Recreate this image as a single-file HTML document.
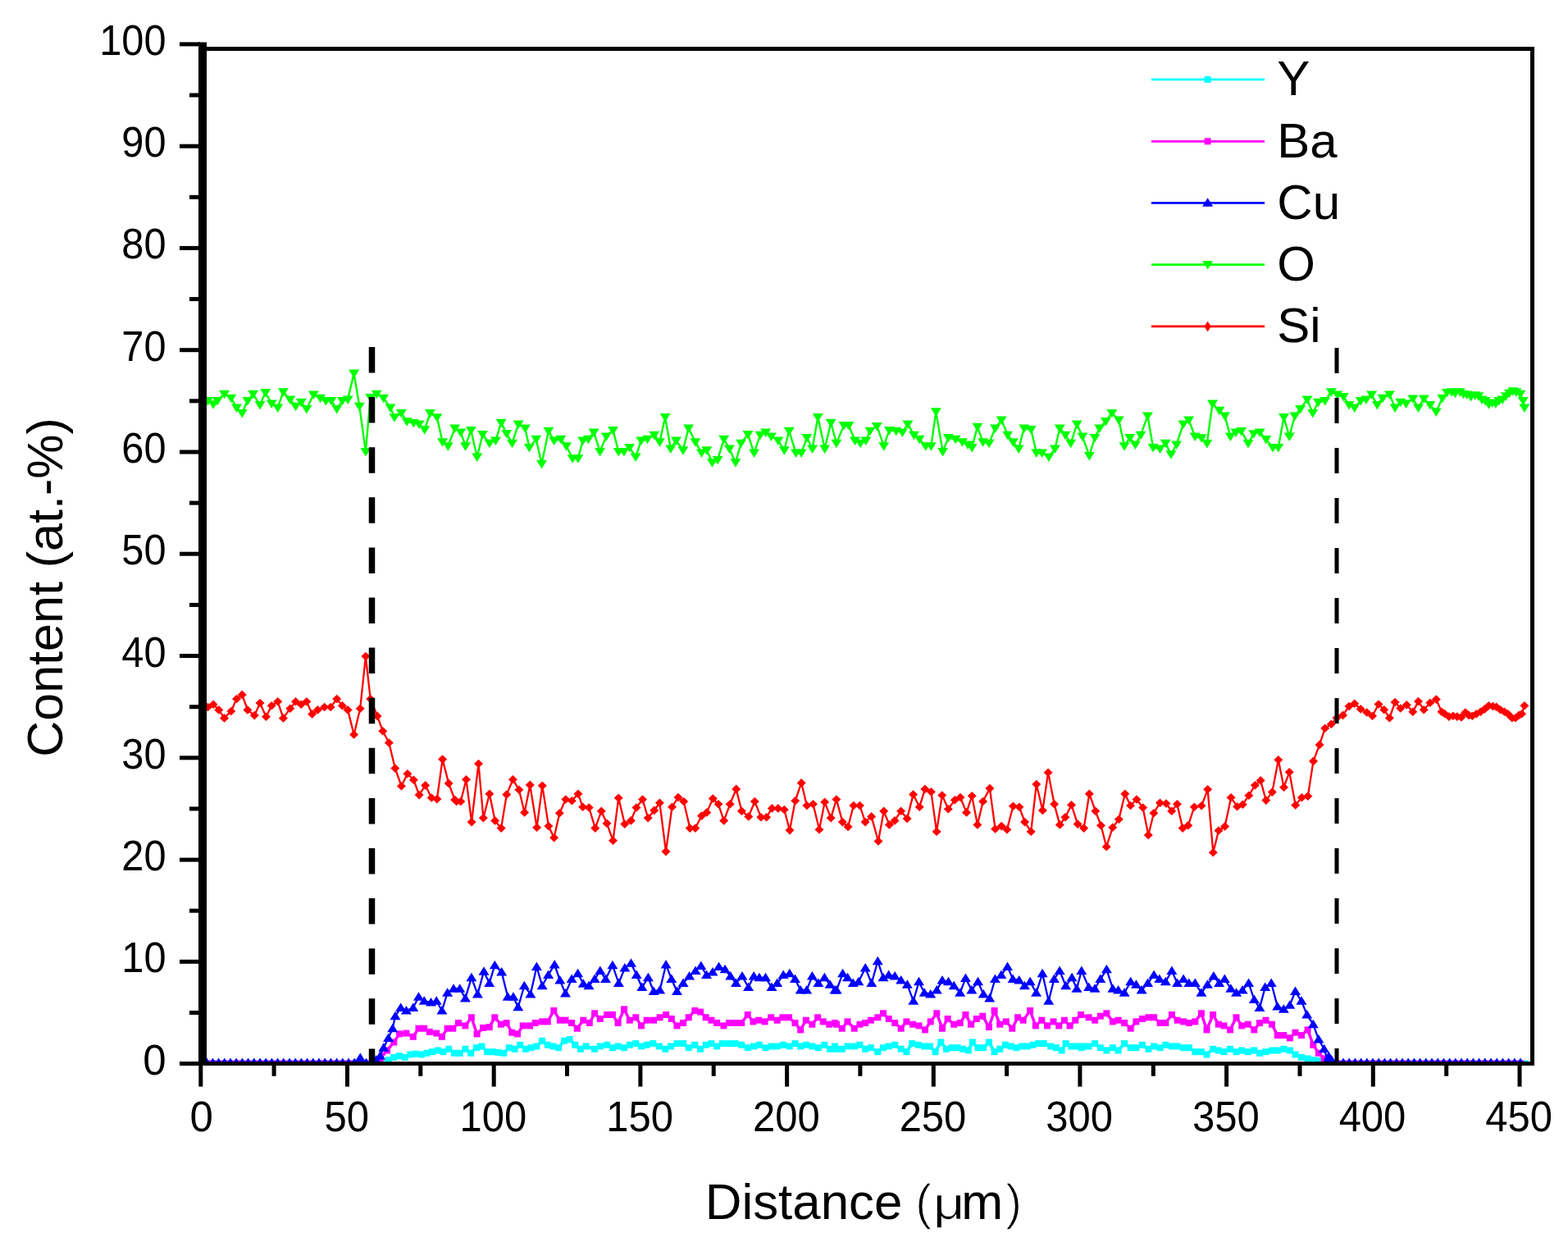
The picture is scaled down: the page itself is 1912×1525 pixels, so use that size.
<!DOCTYPE html>
<html><head><meta charset="utf-8"><title>Content vs Distance</title>
<style>
html,body{margin:0;padding:0;background:#fff;}
body{width:1912px;height:1525px;overflow:hidden;}
svg{display:block;}
text{font-family:"Liberation Sans",Arial,sans-serif;fill:#000;}
.tl{font-size:51px;}
.at{font-size:61px;}
.lg{font-size:60px;}
.th{stroke:#fff;stroke-width:1.4px;}
</style></head><body>
<svg width="1912" height="1525" viewBox="0 0 1912 1525">
<defs><clipPath id="pc"><rect x="244" y="60" width="1624" height="1238"/></clipPath></defs>
<g clip-path="url(#pc)">
<path d="M245.0 1296.6 L252.2 1296.6 L259.4 1296.6 L266.6 1296.6 L273.8 1296.6 L281.0 1296.6 L288.2 1296.6 L295.4 1296.6 L302.6 1296.6 L309.8 1296.6 L317.0 1296.6 L324.2 1296.6 L331.4 1296.6 L338.6 1296.6 L345.8 1296.6 L353.0 1296.6 L360.2 1296.6 L367.4 1296.6 L374.6 1296.6 L381.8 1296.6 L389.0 1296.6 L396.2 1296.6 L403.4 1296.6 L410.6 1296.6 L417.8 1296.6 L425.0 1296.6 L432.2 1296.6 L439.4 1296.6 L446.6 1296.6 L453.8 1296.6 L461.0 1296.6 L468.2 1296.6 L473.6 1292.2 L480.3 1288.9 L487.0 1287.2 L493.7 1288.9 L500.4 1285.5 L507.1 1284.7 L513.8 1285.5 L520.5 1283.8 L527.2 1282.2 L533.9 1280.5 L540.6 1282.2 L547.3 1278.8 L554.0 1283.8 L560.7 1283.8 L567.4 1278.8 L574.1 1283.8 L580.8 1277.2 L587.4 1275.5 L594.1 1282.2 L600.8 1282.2 L607.5 1283.0 L614.2 1283.8 L620.9 1277.2 L627.6 1278.8 L634.3 1273.8 L641.0 1278.8 L647.7 1277.2 L654.4 1275.5 L661.1 1268.8 L667.8 1273.8 L674.5 1275.5 L681.2 1277.2 L687.9 1268.8 L694.6 1267.1 L701.3 1273.8 L707.9 1278.8 L714.6 1275.5 L725.1 1278.8 L731.8 1275.5 L740.2 1273.8 L746.9 1277.2 L753.6 1275.5 L761.1 1277.2 L767.8 1273.8 L775.3 1272.1 L782.0 1275.5 L788.7 1273.8 L796.2 1272.1 L803.8 1275.5 L811.3 1278.8 L818.0 1275.5 L825.5 1272.1 L833.1 1272.1 L839.7 1277.2 L847.3 1273.8 L854.0 1278.8 L860.7 1273.8 L867.4 1272.1 L874.1 1275.5 L880.8 1272.1 L889.1 1272.1 L896.7 1272.1 L904.2 1273.8 L911.7 1277.2 L919.2 1275.5 L925.9 1273.8 L933.5 1277.2 L941.0 1275.5 L947.7 1275.5 L955.2 1273.8 L962.8 1275.5 L969.5 1272.1 L976.2 1275.5 L982.8 1273.8 L990.4 1275.5 L997.9 1277.2 L1005.4 1273.8 L1012.1 1278.8 L1018.0 1275.5 L1020.1 1278.8 L1026.8 1278.8 L1033.5 1275.5 L1041.8 1275.5 L1048.5 1273.8 L1055.2 1278.8 L1061.9 1277.2 L1070.3 1282.2 L1077.0 1277.2 L1083.7 1275.5 L1091.2 1273.8 L1098.7 1278.8 L1105.4 1282.2 L1112.1 1272.1 L1119.7 1273.8 L1127.2 1275.5 L1133.9 1275.5 L1140.6 1282.2 L1147.3 1270.5 L1154.0 1278.8 L1160.7 1277.2 L1167.4 1277.2 L1174.1 1278.8 L1180.8 1280.5 L1185.8 1270.5 L1192.5 1277.2 L1199.2 1277.2 L1205.9 1270.5 L1212.6 1282.2 L1219.2 1278.8 L1225.9 1273.8 L1232.6 1275.5 L1239.3 1277.2 L1246.0 1275.5 L1252.7 1275.5 L1259.4 1273.8 L1266.1 1272.1 L1272.8 1272.1 L1281.2 1275.5 L1287.9 1277.2 L1294.6 1280.5 L1299.6 1272.1 L1306.3 1275.5 L1313.0 1275.5 L1318.8 1277.2 L1320.9 1275.5 L1327.6 1275.5 L1335.1 1272.1 L1341.8 1277.2 L1349.4 1280.5 L1356.9 1277.2 L1363.6 1280.5 L1371.1 1272.1 L1378.7 1277.2 L1385.4 1277.2 L1392.9 1273.8 L1400.4 1278.8 L1407.1 1275.5 L1414.6 1277.2 L1421.3 1273.8 L1428.9 1275.5 L1435.6 1275.5 L1443.1 1277.2 L1449.8 1277.2 L1457.3 1282.2 L1464.9 1282.2 L1471.5 1285.5 L1479.1 1278.8 L1485.8 1280.5 L1492.5 1282.2 L1500.0 1278.8 L1507.5 1282.2 L1514.2 1280.5 L1521.8 1282.2 L1529.3 1280.5 L1536.0 1283.8 L1543.5 1282.2 L1551.0 1280.5 L1557.7 1280.5 L1565.3 1278.8 L1572.8 1280.5 L1579.5 1285.5 L1587.0 1288.9 L1594.6 1290.5 L1601.3 1292.2 L1607.9 1293.1 L1615.1 1296.6 L1622.3 1296.6 L1629.5 1296.6 L1636.7 1296.6 L1643.9 1296.6 L1651.1 1296.6 L1658.3 1296.6 L1665.5 1296.6 L1672.7 1296.6 L1679.9 1296.6 L1687.1 1296.6 L1694.3 1296.6 L1701.5 1296.6 L1708.7 1296.6 L1715.9 1296.6 L1723.1 1296.6 L1730.3 1296.6 L1737.5 1296.6 L1744.7 1296.6 L1751.9 1296.6 L1759.1 1296.6 L1766.3 1296.6 L1773.5 1296.6 L1780.7 1296.6 L1787.9 1296.6 L1795.1 1296.6 L1802.3 1296.6 L1809.5 1296.6 L1816.7 1296.6 L1823.9 1296.6 L1831.1 1296.6 L1838.3 1296.6 L1845.5 1296.6 L1852.7 1296.6 L1859.9 1296.6" fill="none" stroke="#00ffff" stroke-width="4.0" stroke-linejoin="round"/>
<rect x="241.0" y="1292.6" width="8.0" height="8.0" fill="#00ffff"/>
<rect x="248.2" y="1292.6" width="8.0" height="8.0" fill="#00ffff"/>
<rect x="255.4" y="1292.6" width="8.0" height="8.0" fill="#00ffff"/>
<rect x="262.6" y="1292.6" width="8.0" height="8.0" fill="#00ffff"/>
<rect x="269.8" y="1292.6" width="8.0" height="8.0" fill="#00ffff"/>
<rect x="277.0" y="1292.6" width="8.0" height="8.0" fill="#00ffff"/>
<rect x="284.2" y="1292.6" width="8.0" height="8.0" fill="#00ffff"/>
<rect x="291.4" y="1292.6" width="8.0" height="8.0" fill="#00ffff"/>
<rect x="298.6" y="1292.6" width="8.0" height="8.0" fill="#00ffff"/>
<rect x="305.8" y="1292.6" width="8.0" height="8.0" fill="#00ffff"/>
<rect x="313.0" y="1292.6" width="8.0" height="8.0" fill="#00ffff"/>
<rect x="320.2" y="1292.6" width="8.0" height="8.0" fill="#00ffff"/>
<rect x="327.4" y="1292.6" width="8.0" height="8.0" fill="#00ffff"/>
<rect x="334.6" y="1292.6" width="8.0" height="8.0" fill="#00ffff"/>
<rect x="341.8" y="1292.6" width="8.0" height="8.0" fill="#00ffff"/>
<rect x="349.0" y="1292.6" width="8.0" height="8.0" fill="#00ffff"/>
<rect x="356.2" y="1292.6" width="8.0" height="8.0" fill="#00ffff"/>
<rect x="363.4" y="1292.6" width="8.0" height="8.0" fill="#00ffff"/>
<rect x="370.6" y="1292.6" width="8.0" height="8.0" fill="#00ffff"/>
<rect x="377.8" y="1292.6" width="8.0" height="8.0" fill="#00ffff"/>
<rect x="385.0" y="1292.6" width="8.0" height="8.0" fill="#00ffff"/>
<rect x="392.2" y="1292.6" width="8.0" height="8.0" fill="#00ffff"/>
<rect x="399.4" y="1292.6" width="8.0" height="8.0" fill="#00ffff"/>
<rect x="406.6" y="1292.6" width="8.0" height="8.0" fill="#00ffff"/>
<rect x="413.8" y="1292.6" width="8.0" height="8.0" fill="#00ffff"/>
<rect x="421.0" y="1292.6" width="8.0" height="8.0" fill="#00ffff"/>
<rect x="428.2" y="1292.6" width="8.0" height="8.0" fill="#00ffff"/>
<rect x="435.4" y="1292.6" width="8.0" height="8.0" fill="#00ffff"/>
<rect x="442.6" y="1292.6" width="8.0" height="8.0" fill="#00ffff"/>
<rect x="449.8" y="1292.6" width="8.0" height="8.0" fill="#00ffff"/>
<rect x="457.0" y="1292.6" width="8.0" height="8.0" fill="#00ffff"/>
<rect x="464.2" y="1292.6" width="8.0" height="8.0" fill="#00ffff"/>
<rect x="469.6" y="1288.2" width="8.0" height="8.0" fill="#00ffff"/>
<rect x="476.3" y="1284.9" width="8.0" height="8.0" fill="#00ffff"/>
<rect x="483.0" y="1283.2" width="8.0" height="8.0" fill="#00ffff"/>
<rect x="489.7" y="1284.9" width="8.0" height="8.0" fill="#00ffff"/>
<rect x="496.4" y="1281.5" width="8.0" height="8.0" fill="#00ffff"/>
<rect x="503.1" y="1280.7" width="8.0" height="8.0" fill="#00ffff"/>
<rect x="509.8" y="1281.5" width="8.0" height="8.0" fill="#00ffff"/>
<rect x="516.5" y="1279.8" width="8.0" height="8.0" fill="#00ffff"/>
<rect x="523.2" y="1278.2" width="8.0" height="8.0" fill="#00ffff"/>
<rect x="529.9" y="1276.5" width="8.0" height="8.0" fill="#00ffff"/>
<rect x="536.6" y="1278.2" width="8.0" height="8.0" fill="#00ffff"/>
<rect x="543.3" y="1274.8" width="8.0" height="8.0" fill="#00ffff"/>
<rect x="550.0" y="1279.8" width="8.0" height="8.0" fill="#00ffff"/>
<rect x="556.7" y="1279.8" width="8.0" height="8.0" fill="#00ffff"/>
<rect x="563.4" y="1274.8" width="8.0" height="8.0" fill="#00ffff"/>
<rect x="570.1" y="1279.8" width="8.0" height="8.0" fill="#00ffff"/>
<rect x="576.8" y="1273.2" width="8.0" height="8.0" fill="#00ffff"/>
<rect x="583.4" y="1271.5" width="8.0" height="8.0" fill="#00ffff"/>
<rect x="590.1" y="1278.2" width="8.0" height="8.0" fill="#00ffff"/>
<rect x="596.8" y="1278.2" width="8.0" height="8.0" fill="#00ffff"/>
<rect x="603.5" y="1279.0" width="8.0" height="8.0" fill="#00ffff"/>
<rect x="610.2" y="1279.8" width="8.0" height="8.0" fill="#00ffff"/>
<rect x="616.9" y="1273.2" width="8.0" height="8.0" fill="#00ffff"/>
<rect x="623.6" y="1274.8" width="8.0" height="8.0" fill="#00ffff"/>
<rect x="630.3" y="1269.8" width="8.0" height="8.0" fill="#00ffff"/>
<rect x="637.0" y="1274.8" width="8.0" height="8.0" fill="#00ffff"/>
<rect x="643.7" y="1273.2" width="8.0" height="8.0" fill="#00ffff"/>
<rect x="650.4" y="1271.5" width="8.0" height="8.0" fill="#00ffff"/>
<rect x="657.1" y="1264.8" width="8.0" height="8.0" fill="#00ffff"/>
<rect x="663.8" y="1269.8" width="8.0" height="8.0" fill="#00ffff"/>
<rect x="670.5" y="1271.5" width="8.0" height="8.0" fill="#00ffff"/>
<rect x="677.2" y="1273.2" width="8.0" height="8.0" fill="#00ffff"/>
<rect x="683.9" y="1264.8" width="8.0" height="8.0" fill="#00ffff"/>
<rect x="690.6" y="1263.1" width="8.0" height="8.0" fill="#00ffff"/>
<rect x="697.3" y="1269.8" width="8.0" height="8.0" fill="#00ffff"/>
<rect x="703.9" y="1274.8" width="8.0" height="8.0" fill="#00ffff"/>
<rect x="710.6" y="1271.5" width="8.0" height="8.0" fill="#00ffff"/>
<rect x="721.1" y="1274.8" width="8.0" height="8.0" fill="#00ffff"/>
<rect x="727.8" y="1271.5" width="8.0" height="8.0" fill="#00ffff"/>
<rect x="736.2" y="1269.8" width="8.0" height="8.0" fill="#00ffff"/>
<rect x="742.9" y="1273.2" width="8.0" height="8.0" fill="#00ffff"/>
<rect x="749.6" y="1271.5" width="8.0" height="8.0" fill="#00ffff"/>
<rect x="757.1" y="1273.2" width="8.0" height="8.0" fill="#00ffff"/>
<rect x="763.8" y="1269.8" width="8.0" height="8.0" fill="#00ffff"/>
<rect x="771.3" y="1268.1" width="8.0" height="8.0" fill="#00ffff"/>
<rect x="778.0" y="1271.5" width="8.0" height="8.0" fill="#00ffff"/>
<rect x="784.7" y="1269.8" width="8.0" height="8.0" fill="#00ffff"/>
<rect x="792.2" y="1268.1" width="8.0" height="8.0" fill="#00ffff"/>
<rect x="799.8" y="1271.5" width="8.0" height="8.0" fill="#00ffff"/>
<rect x="807.3" y="1274.8" width="8.0" height="8.0" fill="#00ffff"/>
<rect x="814.0" y="1271.5" width="8.0" height="8.0" fill="#00ffff"/>
<rect x="821.5" y="1268.1" width="8.0" height="8.0" fill="#00ffff"/>
<rect x="829.1" y="1268.1" width="8.0" height="8.0" fill="#00ffff"/>
<rect x="835.7" y="1273.2" width="8.0" height="8.0" fill="#00ffff"/>
<rect x="843.3" y="1269.8" width="8.0" height="8.0" fill="#00ffff"/>
<rect x="850.0" y="1274.8" width="8.0" height="8.0" fill="#00ffff"/>
<rect x="856.7" y="1269.8" width="8.0" height="8.0" fill="#00ffff"/>
<rect x="863.4" y="1268.1" width="8.0" height="8.0" fill="#00ffff"/>
<rect x="870.1" y="1271.5" width="8.0" height="8.0" fill="#00ffff"/>
<rect x="876.8" y="1268.1" width="8.0" height="8.0" fill="#00ffff"/>
<rect x="885.1" y="1268.1" width="8.0" height="8.0" fill="#00ffff"/>
<rect x="892.7" y="1268.1" width="8.0" height="8.0" fill="#00ffff"/>
<rect x="900.2" y="1269.8" width="8.0" height="8.0" fill="#00ffff"/>
<rect x="907.7" y="1273.2" width="8.0" height="8.0" fill="#00ffff"/>
<rect x="915.2" y="1271.5" width="8.0" height="8.0" fill="#00ffff"/>
<rect x="921.9" y="1269.8" width="8.0" height="8.0" fill="#00ffff"/>
<rect x="929.5" y="1273.2" width="8.0" height="8.0" fill="#00ffff"/>
<rect x="937.0" y="1271.5" width="8.0" height="8.0" fill="#00ffff"/>
<rect x="943.7" y="1271.5" width="8.0" height="8.0" fill="#00ffff"/>
<rect x="951.2" y="1269.8" width="8.0" height="8.0" fill="#00ffff"/>
<rect x="958.8" y="1271.5" width="8.0" height="8.0" fill="#00ffff"/>
<rect x="965.5" y="1268.1" width="8.0" height="8.0" fill="#00ffff"/>
<rect x="972.2" y="1271.5" width="8.0" height="8.0" fill="#00ffff"/>
<rect x="978.8" y="1269.8" width="8.0" height="8.0" fill="#00ffff"/>
<rect x="986.4" y="1271.5" width="8.0" height="8.0" fill="#00ffff"/>
<rect x="993.9" y="1273.2" width="8.0" height="8.0" fill="#00ffff"/>
<rect x="1001.4" y="1269.8" width="8.0" height="8.0" fill="#00ffff"/>
<rect x="1008.1" y="1274.8" width="8.0" height="8.0" fill="#00ffff"/>
<rect x="1014.0" y="1271.5" width="8.0" height="8.0" fill="#00ffff"/>
<rect x="1016.1" y="1274.8" width="8.0" height="8.0" fill="#00ffff"/>
<rect x="1022.8" y="1274.8" width="8.0" height="8.0" fill="#00ffff"/>
<rect x="1029.5" y="1271.5" width="8.0" height="8.0" fill="#00ffff"/>
<rect x="1037.8" y="1271.5" width="8.0" height="8.0" fill="#00ffff"/>
<rect x="1044.5" y="1269.8" width="8.0" height="8.0" fill="#00ffff"/>
<rect x="1051.2" y="1274.8" width="8.0" height="8.0" fill="#00ffff"/>
<rect x="1057.9" y="1273.2" width="8.0" height="8.0" fill="#00ffff"/>
<rect x="1066.3" y="1278.2" width="8.0" height="8.0" fill="#00ffff"/>
<rect x="1073.0" y="1273.2" width="8.0" height="8.0" fill="#00ffff"/>
<rect x="1079.7" y="1271.5" width="8.0" height="8.0" fill="#00ffff"/>
<rect x="1087.2" y="1269.8" width="8.0" height="8.0" fill="#00ffff"/>
<rect x="1094.7" y="1274.8" width="8.0" height="8.0" fill="#00ffff"/>
<rect x="1101.4" y="1278.2" width="8.0" height="8.0" fill="#00ffff"/>
<rect x="1108.1" y="1268.1" width="8.0" height="8.0" fill="#00ffff"/>
<rect x="1115.7" y="1269.8" width="8.0" height="8.0" fill="#00ffff"/>
<rect x="1123.2" y="1271.5" width="8.0" height="8.0" fill="#00ffff"/>
<rect x="1129.9" y="1271.5" width="8.0" height="8.0" fill="#00ffff"/>
<rect x="1136.6" y="1278.2" width="8.0" height="8.0" fill="#00ffff"/>
<rect x="1143.3" y="1266.5" width="8.0" height="8.0" fill="#00ffff"/>
<rect x="1150.0" y="1274.8" width="8.0" height="8.0" fill="#00ffff"/>
<rect x="1156.7" y="1273.2" width="8.0" height="8.0" fill="#00ffff"/>
<rect x="1163.4" y="1273.2" width="8.0" height="8.0" fill="#00ffff"/>
<rect x="1170.1" y="1274.8" width="8.0" height="8.0" fill="#00ffff"/>
<rect x="1176.8" y="1276.5" width="8.0" height="8.0" fill="#00ffff"/>
<rect x="1181.8" y="1266.5" width="8.0" height="8.0" fill="#00ffff"/>
<rect x="1188.5" y="1273.2" width="8.0" height="8.0" fill="#00ffff"/>
<rect x="1195.2" y="1273.2" width="8.0" height="8.0" fill="#00ffff"/>
<rect x="1201.9" y="1266.5" width="8.0" height="8.0" fill="#00ffff"/>
<rect x="1208.6" y="1278.2" width="8.0" height="8.0" fill="#00ffff"/>
<rect x="1215.2" y="1274.8" width="8.0" height="8.0" fill="#00ffff"/>
<rect x="1221.9" y="1269.8" width="8.0" height="8.0" fill="#00ffff"/>
<rect x="1228.6" y="1271.5" width="8.0" height="8.0" fill="#00ffff"/>
<rect x="1235.3" y="1273.2" width="8.0" height="8.0" fill="#00ffff"/>
<rect x="1242.0" y="1271.5" width="8.0" height="8.0" fill="#00ffff"/>
<rect x="1248.7" y="1271.5" width="8.0" height="8.0" fill="#00ffff"/>
<rect x="1255.4" y="1269.8" width="8.0" height="8.0" fill="#00ffff"/>
<rect x="1262.1" y="1268.1" width="8.0" height="8.0" fill="#00ffff"/>
<rect x="1268.8" y="1268.1" width="8.0" height="8.0" fill="#00ffff"/>
<rect x="1277.2" y="1271.5" width="8.0" height="8.0" fill="#00ffff"/>
<rect x="1283.9" y="1273.2" width="8.0" height="8.0" fill="#00ffff"/>
<rect x="1290.6" y="1276.5" width="8.0" height="8.0" fill="#00ffff"/>
<rect x="1295.6" y="1268.1" width="8.0" height="8.0" fill="#00ffff"/>
<rect x="1302.3" y="1271.5" width="8.0" height="8.0" fill="#00ffff"/>
<rect x="1309.0" y="1271.5" width="8.0" height="8.0" fill="#00ffff"/>
<rect x="1314.8" y="1273.2" width="8.0" height="8.0" fill="#00ffff"/>
<rect x="1316.9" y="1271.5" width="8.0" height="8.0" fill="#00ffff"/>
<rect x="1323.6" y="1271.5" width="8.0" height="8.0" fill="#00ffff"/>
<rect x="1331.1" y="1268.1" width="8.0" height="8.0" fill="#00ffff"/>
<rect x="1337.8" y="1273.2" width="8.0" height="8.0" fill="#00ffff"/>
<rect x="1345.4" y="1276.5" width="8.0" height="8.0" fill="#00ffff"/>
<rect x="1352.9" y="1273.2" width="8.0" height="8.0" fill="#00ffff"/>
<rect x="1359.6" y="1276.5" width="8.0" height="8.0" fill="#00ffff"/>
<rect x="1367.1" y="1268.1" width="8.0" height="8.0" fill="#00ffff"/>
<rect x="1374.7" y="1273.2" width="8.0" height="8.0" fill="#00ffff"/>
<rect x="1381.4" y="1273.2" width="8.0" height="8.0" fill="#00ffff"/>
<rect x="1388.9" y="1269.8" width="8.0" height="8.0" fill="#00ffff"/>
<rect x="1396.4" y="1274.8" width="8.0" height="8.0" fill="#00ffff"/>
<rect x="1403.1" y="1271.5" width="8.0" height="8.0" fill="#00ffff"/>
<rect x="1410.6" y="1273.2" width="8.0" height="8.0" fill="#00ffff"/>
<rect x="1417.3" y="1269.8" width="8.0" height="8.0" fill="#00ffff"/>
<rect x="1424.9" y="1271.5" width="8.0" height="8.0" fill="#00ffff"/>
<rect x="1431.6" y="1271.5" width="8.0" height="8.0" fill="#00ffff"/>
<rect x="1439.1" y="1273.2" width="8.0" height="8.0" fill="#00ffff"/>
<rect x="1445.8" y="1273.2" width="8.0" height="8.0" fill="#00ffff"/>
<rect x="1453.3" y="1278.2" width="8.0" height="8.0" fill="#00ffff"/>
<rect x="1460.9" y="1278.2" width="8.0" height="8.0" fill="#00ffff"/>
<rect x="1467.5" y="1281.5" width="8.0" height="8.0" fill="#00ffff"/>
<rect x="1475.1" y="1274.8" width="8.0" height="8.0" fill="#00ffff"/>
<rect x="1481.8" y="1276.5" width="8.0" height="8.0" fill="#00ffff"/>
<rect x="1488.5" y="1278.2" width="8.0" height="8.0" fill="#00ffff"/>
<rect x="1496.0" y="1274.8" width="8.0" height="8.0" fill="#00ffff"/>
<rect x="1503.5" y="1278.2" width="8.0" height="8.0" fill="#00ffff"/>
<rect x="1510.2" y="1276.5" width="8.0" height="8.0" fill="#00ffff"/>
<rect x="1517.8" y="1278.2" width="8.0" height="8.0" fill="#00ffff"/>
<rect x="1525.3" y="1276.5" width="8.0" height="8.0" fill="#00ffff"/>
<rect x="1532.0" y="1279.8" width="8.0" height="8.0" fill="#00ffff"/>
<rect x="1539.5" y="1278.2" width="8.0" height="8.0" fill="#00ffff"/>
<rect x="1547.0" y="1276.5" width="8.0" height="8.0" fill="#00ffff"/>
<rect x="1553.7" y="1276.5" width="8.0" height="8.0" fill="#00ffff"/>
<rect x="1561.3" y="1274.8" width="8.0" height="8.0" fill="#00ffff"/>
<rect x="1568.8" y="1276.5" width="8.0" height="8.0" fill="#00ffff"/>
<rect x="1575.5" y="1281.5" width="8.0" height="8.0" fill="#00ffff"/>
<rect x="1583.0" y="1284.9" width="8.0" height="8.0" fill="#00ffff"/>
<rect x="1590.6" y="1286.5" width="8.0" height="8.0" fill="#00ffff"/>
<rect x="1597.3" y="1288.2" width="8.0" height="8.0" fill="#00ffff"/>
<rect x="1603.9" y="1289.1" width="8.0" height="8.0" fill="#00ffff"/>
<rect x="1611.1" y="1292.6" width="8.0" height="8.0" fill="#00ffff"/>
<rect x="1618.3" y="1292.6" width="8.0" height="8.0" fill="#00ffff"/>
<rect x="1625.5" y="1292.6" width="8.0" height="8.0" fill="#00ffff"/>
<rect x="1632.7" y="1292.6" width="8.0" height="8.0" fill="#00ffff"/>
<rect x="1639.9" y="1292.6" width="8.0" height="8.0" fill="#00ffff"/>
<rect x="1647.1" y="1292.6" width="8.0" height="8.0" fill="#00ffff"/>
<rect x="1654.3" y="1292.6" width="8.0" height="8.0" fill="#00ffff"/>
<rect x="1661.5" y="1292.6" width="8.0" height="8.0" fill="#00ffff"/>
<rect x="1668.7" y="1292.6" width="8.0" height="8.0" fill="#00ffff"/>
<rect x="1675.9" y="1292.6" width="8.0" height="8.0" fill="#00ffff"/>
<rect x="1683.1" y="1292.6" width="8.0" height="8.0" fill="#00ffff"/>
<rect x="1690.3" y="1292.6" width="8.0" height="8.0" fill="#00ffff"/>
<rect x="1697.5" y="1292.6" width="8.0" height="8.0" fill="#00ffff"/>
<rect x="1704.7" y="1292.6" width="8.0" height="8.0" fill="#00ffff"/>
<rect x="1711.9" y="1292.6" width="8.0" height="8.0" fill="#00ffff"/>
<rect x="1719.1" y="1292.6" width="8.0" height="8.0" fill="#00ffff"/>
<rect x="1726.3" y="1292.6" width="8.0" height="8.0" fill="#00ffff"/>
<rect x="1733.5" y="1292.6" width="8.0" height="8.0" fill="#00ffff"/>
<rect x="1740.7" y="1292.6" width="8.0" height="8.0" fill="#00ffff"/>
<rect x="1747.9" y="1292.6" width="8.0" height="8.0" fill="#00ffff"/>
<rect x="1755.1" y="1292.6" width="8.0" height="8.0" fill="#00ffff"/>
<rect x="1762.3" y="1292.6" width="8.0" height="8.0" fill="#00ffff"/>
<rect x="1769.5" y="1292.6" width="8.0" height="8.0" fill="#00ffff"/>
<rect x="1776.7" y="1292.6" width="8.0" height="8.0" fill="#00ffff"/>
<rect x="1783.9" y="1292.6" width="8.0" height="8.0" fill="#00ffff"/>
<rect x="1791.1" y="1292.6" width="8.0" height="8.0" fill="#00ffff"/>
<rect x="1798.3" y="1292.6" width="8.0" height="8.0" fill="#00ffff"/>
<rect x="1805.5" y="1292.6" width="8.0" height="8.0" fill="#00ffff"/>
<rect x="1812.7" y="1292.6" width="8.0" height="8.0" fill="#00ffff"/>
<rect x="1819.9" y="1292.6" width="8.0" height="8.0" fill="#00ffff"/>
<rect x="1827.1" y="1292.6" width="8.0" height="8.0" fill="#00ffff"/>
<rect x="1834.3" y="1292.6" width="8.0" height="8.0" fill="#00ffff"/>
<rect x="1841.5" y="1292.6" width="8.0" height="8.0" fill="#00ffff"/>
<rect x="1848.7" y="1292.6" width="8.0" height="8.0" fill="#00ffff"/>
<rect x="1855.9" y="1292.6" width="8.0" height="8.0" fill="#00ffff"/>
<path d="M245.0 1296.6 L252.2 1296.6 L259.4 1296.6 L266.6 1296.6 L273.8 1296.6 L281.0 1296.6 L288.2 1296.6 L295.4 1296.6 L302.6 1296.6 L309.8 1296.6 L317.0 1296.6 L324.2 1296.6 L331.4 1296.6 L338.6 1296.6 L345.8 1296.6 L353.0 1296.6 L360.2 1296.6 L367.4 1296.6 L374.6 1296.6 L381.8 1296.6 L389.0 1296.6 L396.2 1296.6 L403.4 1296.6 L410.6 1296.6 L417.8 1296.6 L425.0 1296.6 L432.2 1296.6 L439.4 1296.6 L446.6 1296.6 L453.8 1296.6 L463.6 1290.5 L472.0 1280.5 L480.3 1270.5 L487.0 1260.4 L495.4 1259.6 L503.8 1263.8 L510.5 1253.7 L517.2 1253.7 L523.8 1257.9 L532.2 1259.6 L538.9 1263.8 L545.6 1253.7 L552.3 1253.7 L559.0 1247.0 L567.4 1250.4 L574.9 1240.3 L581.6 1260.4 L589.1 1252.9 L596.7 1252.1 L603.3 1240.3 L610.9 1248.7 L617.6 1247.0 L624.3 1258.7 L631.0 1260.4 L637.7 1250.4 L646.0 1250.4 L652.7 1247.0 L661.1 1245.4 L667.8 1245.4 L675.3 1232.0 L682.8 1243.7 L689.5 1243.7 L697.1 1247.0 L703.8 1253.7 L711.3 1243.7 L718.8 1247.0 L725.1 1235.3 L731.8 1242.0 L740.2 1237.0 L746.9 1237.0 L753.6 1247.0 L761.1 1230.3 L767.8 1243.7 L775.3 1240.3 L782.0 1250.4 L788.7 1243.7 L797.1 1243.7 L804.6 1240.3 L812.1 1237.0 L818.8 1242.0 L825.5 1250.4 L833.1 1247.0 L839.7 1240.3 L847.3 1232.0 L854.0 1233.6 L860.7 1240.3 L867.4 1243.7 L874.1 1247.0 L882.4 1250.4 L889.1 1247.0 L896.7 1247.0 L904.2 1247.0 L911.7 1237.0 L918.4 1245.4 L925.1 1243.7 L932.6 1245.4 L940.2 1240.3 L947.7 1243.7 L954.4 1240.3 L961.9 1240.3 L969.5 1247.0 L976.2 1255.4 L982.8 1243.7 L990.4 1248.7 L997.1 1240.3 L1003.8 1245.4 L1011.3 1248.7 L1018.0 1247.0 L1020.1 1248.7 L1026.8 1253.7 L1033.5 1245.4 L1041.8 1253.7 L1048.5 1248.7 L1055.2 1247.0 L1061.9 1243.7 L1070.3 1240.3 L1077.0 1235.3 L1083.7 1242.0 L1091.2 1247.0 L1098.7 1253.7 L1105.4 1245.4 L1113.0 1248.7 L1120.5 1250.4 L1128.0 1255.4 L1134.7 1245.4 L1142.3 1235.3 L1149.0 1253.7 L1155.6 1242.0 L1163.2 1248.7 L1170.7 1247.0 L1177.4 1237.0 L1184.1 1248.7 L1190.8 1242.0 L1198.3 1238.7 L1205.9 1252.1 L1212.6 1232.0 L1219.2 1248.7 L1226.8 1245.4 L1234.3 1253.7 L1241.0 1240.3 L1247.7 1243.7 L1256.1 1232.0 L1262.8 1250.4 L1270.3 1243.7 L1277.0 1250.4 L1284.5 1245.4 L1291.2 1250.4 L1297.9 1243.7 L1304.6 1250.4 L1311.3 1243.7 L1318.0 1237.0 L1327.6 1240.3 L1335.1 1243.7 L1341.8 1238.7 L1349.4 1235.3 L1356.9 1245.4 L1363.6 1243.7 L1371.1 1247.0 L1378.7 1253.7 L1385.4 1245.4 L1392.9 1242.0 L1400.4 1240.3 L1407.1 1240.3 L1414.6 1247.0 L1421.3 1247.0 L1428.9 1237.0 L1435.6 1243.7 L1443.1 1245.4 L1449.8 1247.0 L1457.3 1245.4 L1464.9 1235.3 L1471.5 1255.4 L1479.1 1237.0 L1485.8 1248.7 L1492.5 1250.4 L1500.0 1255.4 L1507.5 1240.3 L1514.2 1250.4 L1521.8 1248.7 L1529.3 1255.4 L1536.0 1247.0 L1543.5 1243.7 L1551.0 1248.7 L1557.7 1262.1 L1565.3 1262.1 L1572.8 1265.4 L1579.5 1258.7 L1587.0 1262.1 L1594.6 1255.4 L1601.3 1273.8 L1607.9 1283.8 L1614.6 1290.5 L1616.9 1292.0 L1624.1 1296.6 L1631.3 1296.6 L1638.5 1296.6 L1645.7 1296.6 L1652.9 1296.6 L1660.1 1296.6 L1667.3 1296.6 L1674.5 1296.6 L1681.7 1296.6 L1688.9 1296.6 L1696.1 1296.6 L1703.3 1296.6 L1710.5 1296.6 L1717.7 1296.6 L1724.9 1296.6 L1732.1 1296.6 L1739.3 1296.6 L1746.5 1296.6 L1753.7 1296.6 L1760.9 1296.6 L1768.1 1296.6 L1775.3 1296.6 L1782.5 1296.6 L1789.7 1296.6 L1796.9 1296.6 L1804.1 1296.6 L1811.3 1296.6 L1818.5 1296.6 L1825.7 1296.6 L1832.9 1296.6 L1840.1 1296.6 L1847.3 1296.6 L1854.5 1296.6" fill="none" stroke="#ff00ff" stroke-width="3.5" stroke-linejoin="round"/>
<rect x="241.0" y="1292.6" width="8.0" height="8.0" fill="#ff00ff"/>
<rect x="248.2" y="1292.6" width="8.0" height="8.0" fill="#ff00ff"/>
<rect x="255.4" y="1292.6" width="8.0" height="8.0" fill="#ff00ff"/>
<rect x="262.6" y="1292.6" width="8.0" height="8.0" fill="#ff00ff"/>
<rect x="269.8" y="1292.6" width="8.0" height="8.0" fill="#ff00ff"/>
<rect x="277.0" y="1292.6" width="8.0" height="8.0" fill="#ff00ff"/>
<rect x="284.2" y="1292.6" width="8.0" height="8.0" fill="#ff00ff"/>
<rect x="291.4" y="1292.6" width="8.0" height="8.0" fill="#ff00ff"/>
<rect x="298.6" y="1292.6" width="8.0" height="8.0" fill="#ff00ff"/>
<rect x="305.8" y="1292.6" width="8.0" height="8.0" fill="#ff00ff"/>
<rect x="313.0" y="1292.6" width="8.0" height="8.0" fill="#ff00ff"/>
<rect x="320.2" y="1292.6" width="8.0" height="8.0" fill="#ff00ff"/>
<rect x="327.4" y="1292.6" width="8.0" height="8.0" fill="#ff00ff"/>
<rect x="334.6" y="1292.6" width="8.0" height="8.0" fill="#ff00ff"/>
<rect x="341.8" y="1292.6" width="8.0" height="8.0" fill="#ff00ff"/>
<rect x="349.0" y="1292.6" width="8.0" height="8.0" fill="#ff00ff"/>
<rect x="356.2" y="1292.6" width="8.0" height="8.0" fill="#ff00ff"/>
<rect x="363.4" y="1292.6" width="8.0" height="8.0" fill="#ff00ff"/>
<rect x="370.6" y="1292.6" width="8.0" height="8.0" fill="#ff00ff"/>
<rect x="377.8" y="1292.6" width="8.0" height="8.0" fill="#ff00ff"/>
<rect x="385.0" y="1292.6" width="8.0" height="8.0" fill="#ff00ff"/>
<rect x="392.2" y="1292.6" width="8.0" height="8.0" fill="#ff00ff"/>
<rect x="399.4" y="1292.6" width="8.0" height="8.0" fill="#ff00ff"/>
<rect x="406.6" y="1292.6" width="8.0" height="8.0" fill="#ff00ff"/>
<rect x="413.8" y="1292.6" width="8.0" height="8.0" fill="#ff00ff"/>
<rect x="421.0" y="1292.6" width="8.0" height="8.0" fill="#ff00ff"/>
<rect x="428.2" y="1292.6" width="8.0" height="8.0" fill="#ff00ff"/>
<rect x="435.4" y="1292.6" width="8.0" height="8.0" fill="#ff00ff"/>
<rect x="442.6" y="1292.6" width="8.0" height="8.0" fill="#ff00ff"/>
<rect x="449.8" y="1292.6" width="8.0" height="8.0" fill="#ff00ff"/>
<rect x="459.6" y="1286.5" width="8.0" height="8.0" fill="#ff00ff"/>
<rect x="468.0" y="1276.5" width="8.0" height="8.0" fill="#ff00ff"/>
<rect x="476.3" y="1266.5" width="8.0" height="8.0" fill="#ff00ff"/>
<rect x="483.0" y="1256.4" width="8.0" height="8.0" fill="#ff00ff"/>
<rect x="491.4" y="1255.6" width="8.0" height="8.0" fill="#ff00ff"/>
<rect x="499.8" y="1259.8" width="8.0" height="8.0" fill="#ff00ff"/>
<rect x="506.5" y="1249.7" width="8.0" height="8.0" fill="#ff00ff"/>
<rect x="513.2" y="1249.7" width="8.0" height="8.0" fill="#ff00ff"/>
<rect x="519.8" y="1253.9" width="8.0" height="8.0" fill="#ff00ff"/>
<rect x="528.2" y="1255.6" width="8.0" height="8.0" fill="#ff00ff"/>
<rect x="534.9" y="1259.8" width="8.0" height="8.0" fill="#ff00ff"/>
<rect x="541.6" y="1249.7" width="8.0" height="8.0" fill="#ff00ff"/>
<rect x="548.3" y="1249.7" width="8.0" height="8.0" fill="#ff00ff"/>
<rect x="555.0" y="1243.0" width="8.0" height="8.0" fill="#ff00ff"/>
<rect x="563.4" y="1246.4" width="8.0" height="8.0" fill="#ff00ff"/>
<rect x="570.9" y="1236.3" width="8.0" height="8.0" fill="#ff00ff"/>
<rect x="577.6" y="1256.4" width="8.0" height="8.0" fill="#ff00ff"/>
<rect x="585.1" y="1248.9" width="8.0" height="8.0" fill="#ff00ff"/>
<rect x="592.7" y="1248.1" width="8.0" height="8.0" fill="#ff00ff"/>
<rect x="599.3" y="1236.3" width="8.0" height="8.0" fill="#ff00ff"/>
<rect x="606.9" y="1244.7" width="8.0" height="8.0" fill="#ff00ff"/>
<rect x="613.6" y="1243.0" width="8.0" height="8.0" fill="#ff00ff"/>
<rect x="620.3" y="1254.7" width="8.0" height="8.0" fill="#ff00ff"/>
<rect x="627.0" y="1256.4" width="8.0" height="8.0" fill="#ff00ff"/>
<rect x="633.7" y="1246.4" width="8.0" height="8.0" fill="#ff00ff"/>
<rect x="642.0" y="1246.4" width="8.0" height="8.0" fill="#ff00ff"/>
<rect x="648.7" y="1243.0" width="8.0" height="8.0" fill="#ff00ff"/>
<rect x="657.1" y="1241.4" width="8.0" height="8.0" fill="#ff00ff"/>
<rect x="663.8" y="1241.4" width="8.0" height="8.0" fill="#ff00ff"/>
<rect x="671.3" y="1228.0" width="8.0" height="8.0" fill="#ff00ff"/>
<rect x="678.8" y="1239.7" width="8.0" height="8.0" fill="#ff00ff"/>
<rect x="685.5" y="1239.7" width="8.0" height="8.0" fill="#ff00ff"/>
<rect x="693.1" y="1243.0" width="8.0" height="8.0" fill="#ff00ff"/>
<rect x="699.8" y="1249.7" width="8.0" height="8.0" fill="#ff00ff"/>
<rect x="707.3" y="1239.7" width="8.0" height="8.0" fill="#ff00ff"/>
<rect x="714.8" y="1243.0" width="8.0" height="8.0" fill="#ff00ff"/>
<rect x="721.1" y="1231.3" width="8.0" height="8.0" fill="#ff00ff"/>
<rect x="727.8" y="1238.0" width="8.0" height="8.0" fill="#ff00ff"/>
<rect x="736.2" y="1233.0" width="8.0" height="8.0" fill="#ff00ff"/>
<rect x="742.9" y="1233.0" width="8.0" height="8.0" fill="#ff00ff"/>
<rect x="749.6" y="1243.0" width="8.0" height="8.0" fill="#ff00ff"/>
<rect x="757.1" y="1226.3" width="8.0" height="8.0" fill="#ff00ff"/>
<rect x="763.8" y="1239.7" width="8.0" height="8.0" fill="#ff00ff"/>
<rect x="771.3" y="1236.3" width="8.0" height="8.0" fill="#ff00ff"/>
<rect x="778.0" y="1246.4" width="8.0" height="8.0" fill="#ff00ff"/>
<rect x="784.7" y="1239.7" width="8.0" height="8.0" fill="#ff00ff"/>
<rect x="793.1" y="1239.7" width="8.0" height="8.0" fill="#ff00ff"/>
<rect x="800.6" y="1236.3" width="8.0" height="8.0" fill="#ff00ff"/>
<rect x="808.1" y="1233.0" width="8.0" height="8.0" fill="#ff00ff"/>
<rect x="814.8" y="1238.0" width="8.0" height="8.0" fill="#ff00ff"/>
<rect x="821.5" y="1246.4" width="8.0" height="8.0" fill="#ff00ff"/>
<rect x="829.1" y="1243.0" width="8.0" height="8.0" fill="#ff00ff"/>
<rect x="835.7" y="1236.3" width="8.0" height="8.0" fill="#ff00ff"/>
<rect x="843.3" y="1228.0" width="8.0" height="8.0" fill="#ff00ff"/>
<rect x="850.0" y="1229.6" width="8.0" height="8.0" fill="#ff00ff"/>
<rect x="856.7" y="1236.3" width="8.0" height="8.0" fill="#ff00ff"/>
<rect x="863.4" y="1239.7" width="8.0" height="8.0" fill="#ff00ff"/>
<rect x="870.1" y="1243.0" width="8.0" height="8.0" fill="#ff00ff"/>
<rect x="878.4" y="1246.4" width="8.0" height="8.0" fill="#ff00ff"/>
<rect x="885.1" y="1243.0" width="8.0" height="8.0" fill="#ff00ff"/>
<rect x="892.7" y="1243.0" width="8.0" height="8.0" fill="#ff00ff"/>
<rect x="900.2" y="1243.0" width="8.0" height="8.0" fill="#ff00ff"/>
<rect x="907.7" y="1233.0" width="8.0" height="8.0" fill="#ff00ff"/>
<rect x="914.4" y="1241.4" width="8.0" height="8.0" fill="#ff00ff"/>
<rect x="921.1" y="1239.7" width="8.0" height="8.0" fill="#ff00ff"/>
<rect x="928.6" y="1241.4" width="8.0" height="8.0" fill="#ff00ff"/>
<rect x="936.2" y="1236.3" width="8.0" height="8.0" fill="#ff00ff"/>
<rect x="943.7" y="1239.7" width="8.0" height="8.0" fill="#ff00ff"/>
<rect x="950.4" y="1236.3" width="8.0" height="8.0" fill="#ff00ff"/>
<rect x="957.9" y="1236.3" width="8.0" height="8.0" fill="#ff00ff"/>
<rect x="965.5" y="1243.0" width="8.0" height="8.0" fill="#ff00ff"/>
<rect x="972.2" y="1251.4" width="8.0" height="8.0" fill="#ff00ff"/>
<rect x="978.8" y="1239.7" width="8.0" height="8.0" fill="#ff00ff"/>
<rect x="986.4" y="1244.7" width="8.0" height="8.0" fill="#ff00ff"/>
<rect x="993.1" y="1236.3" width="8.0" height="8.0" fill="#ff00ff"/>
<rect x="999.8" y="1241.4" width="8.0" height="8.0" fill="#ff00ff"/>
<rect x="1007.3" y="1244.7" width="8.0" height="8.0" fill="#ff00ff"/>
<rect x="1014.0" y="1243.0" width="8.0" height="8.0" fill="#ff00ff"/>
<rect x="1016.1" y="1244.7" width="8.0" height="8.0" fill="#ff00ff"/>
<rect x="1022.8" y="1249.7" width="8.0" height="8.0" fill="#ff00ff"/>
<rect x="1029.5" y="1241.4" width="8.0" height="8.0" fill="#ff00ff"/>
<rect x="1037.8" y="1249.7" width="8.0" height="8.0" fill="#ff00ff"/>
<rect x="1044.5" y="1244.7" width="8.0" height="8.0" fill="#ff00ff"/>
<rect x="1051.2" y="1243.0" width="8.0" height="8.0" fill="#ff00ff"/>
<rect x="1057.9" y="1239.7" width="8.0" height="8.0" fill="#ff00ff"/>
<rect x="1066.3" y="1236.3" width="8.0" height="8.0" fill="#ff00ff"/>
<rect x="1073.0" y="1231.3" width="8.0" height="8.0" fill="#ff00ff"/>
<rect x="1079.7" y="1238.0" width="8.0" height="8.0" fill="#ff00ff"/>
<rect x="1087.2" y="1243.0" width="8.0" height="8.0" fill="#ff00ff"/>
<rect x="1094.7" y="1249.7" width="8.0" height="8.0" fill="#ff00ff"/>
<rect x="1101.4" y="1241.4" width="8.0" height="8.0" fill="#ff00ff"/>
<rect x="1109.0" y="1244.7" width="8.0" height="8.0" fill="#ff00ff"/>
<rect x="1116.5" y="1246.4" width="8.0" height="8.0" fill="#ff00ff"/>
<rect x="1124.0" y="1251.4" width="8.0" height="8.0" fill="#ff00ff"/>
<rect x="1130.7" y="1241.4" width="8.0" height="8.0" fill="#ff00ff"/>
<rect x="1138.3" y="1231.3" width="8.0" height="8.0" fill="#ff00ff"/>
<rect x="1145.0" y="1249.7" width="8.0" height="8.0" fill="#ff00ff"/>
<rect x="1151.6" y="1238.0" width="8.0" height="8.0" fill="#ff00ff"/>
<rect x="1159.2" y="1244.7" width="8.0" height="8.0" fill="#ff00ff"/>
<rect x="1166.7" y="1243.0" width="8.0" height="8.0" fill="#ff00ff"/>
<rect x="1173.4" y="1233.0" width="8.0" height="8.0" fill="#ff00ff"/>
<rect x="1180.1" y="1244.7" width="8.0" height="8.0" fill="#ff00ff"/>
<rect x="1186.8" y="1238.0" width="8.0" height="8.0" fill="#ff00ff"/>
<rect x="1194.3" y="1234.7" width="8.0" height="8.0" fill="#ff00ff"/>
<rect x="1201.9" y="1248.1" width="8.0" height="8.0" fill="#ff00ff"/>
<rect x="1208.6" y="1228.0" width="8.0" height="8.0" fill="#ff00ff"/>
<rect x="1215.2" y="1244.7" width="8.0" height="8.0" fill="#ff00ff"/>
<rect x="1222.8" y="1241.4" width="8.0" height="8.0" fill="#ff00ff"/>
<rect x="1230.3" y="1249.7" width="8.0" height="8.0" fill="#ff00ff"/>
<rect x="1237.0" y="1236.3" width="8.0" height="8.0" fill="#ff00ff"/>
<rect x="1243.7" y="1239.7" width="8.0" height="8.0" fill="#ff00ff"/>
<rect x="1252.1" y="1228.0" width="8.0" height="8.0" fill="#ff00ff"/>
<rect x="1258.8" y="1246.4" width="8.0" height="8.0" fill="#ff00ff"/>
<rect x="1266.3" y="1239.7" width="8.0" height="8.0" fill="#ff00ff"/>
<rect x="1273.0" y="1246.4" width="8.0" height="8.0" fill="#ff00ff"/>
<rect x="1280.5" y="1241.4" width="8.0" height="8.0" fill="#ff00ff"/>
<rect x="1287.2" y="1246.4" width="8.0" height="8.0" fill="#ff00ff"/>
<rect x="1293.9" y="1239.7" width="8.0" height="8.0" fill="#ff00ff"/>
<rect x="1300.6" y="1246.4" width="8.0" height="8.0" fill="#ff00ff"/>
<rect x="1307.3" y="1239.7" width="8.0" height="8.0" fill="#ff00ff"/>
<rect x="1314.0" y="1233.0" width="8.0" height="8.0" fill="#ff00ff"/>
<rect x="1323.6" y="1236.3" width="8.0" height="8.0" fill="#ff00ff"/>
<rect x="1331.1" y="1239.7" width="8.0" height="8.0" fill="#ff00ff"/>
<rect x="1337.8" y="1234.7" width="8.0" height="8.0" fill="#ff00ff"/>
<rect x="1345.4" y="1231.3" width="8.0" height="8.0" fill="#ff00ff"/>
<rect x="1352.9" y="1241.4" width="8.0" height="8.0" fill="#ff00ff"/>
<rect x="1359.6" y="1239.7" width="8.0" height="8.0" fill="#ff00ff"/>
<rect x="1367.1" y="1243.0" width="8.0" height="8.0" fill="#ff00ff"/>
<rect x="1374.7" y="1249.7" width="8.0" height="8.0" fill="#ff00ff"/>
<rect x="1381.4" y="1241.4" width="8.0" height="8.0" fill="#ff00ff"/>
<rect x="1388.9" y="1238.0" width="8.0" height="8.0" fill="#ff00ff"/>
<rect x="1396.4" y="1236.3" width="8.0" height="8.0" fill="#ff00ff"/>
<rect x="1403.1" y="1236.3" width="8.0" height="8.0" fill="#ff00ff"/>
<rect x="1410.6" y="1243.0" width="8.0" height="8.0" fill="#ff00ff"/>
<rect x="1417.3" y="1243.0" width="8.0" height="8.0" fill="#ff00ff"/>
<rect x="1424.9" y="1233.0" width="8.0" height="8.0" fill="#ff00ff"/>
<rect x="1431.6" y="1239.7" width="8.0" height="8.0" fill="#ff00ff"/>
<rect x="1439.1" y="1241.4" width="8.0" height="8.0" fill="#ff00ff"/>
<rect x="1445.8" y="1243.0" width="8.0" height="8.0" fill="#ff00ff"/>
<rect x="1453.3" y="1241.4" width="8.0" height="8.0" fill="#ff00ff"/>
<rect x="1460.9" y="1231.3" width="8.0" height="8.0" fill="#ff00ff"/>
<rect x="1467.5" y="1251.4" width="8.0" height="8.0" fill="#ff00ff"/>
<rect x="1475.1" y="1233.0" width="8.0" height="8.0" fill="#ff00ff"/>
<rect x="1481.8" y="1244.7" width="8.0" height="8.0" fill="#ff00ff"/>
<rect x="1488.5" y="1246.4" width="8.0" height="8.0" fill="#ff00ff"/>
<rect x="1496.0" y="1251.4" width="8.0" height="8.0" fill="#ff00ff"/>
<rect x="1503.5" y="1236.3" width="8.0" height="8.0" fill="#ff00ff"/>
<rect x="1510.2" y="1246.4" width="8.0" height="8.0" fill="#ff00ff"/>
<rect x="1517.8" y="1244.7" width="8.0" height="8.0" fill="#ff00ff"/>
<rect x="1525.3" y="1251.4" width="8.0" height="8.0" fill="#ff00ff"/>
<rect x="1532.0" y="1243.0" width="8.0" height="8.0" fill="#ff00ff"/>
<rect x="1539.5" y="1239.7" width="8.0" height="8.0" fill="#ff00ff"/>
<rect x="1547.0" y="1244.7" width="8.0" height="8.0" fill="#ff00ff"/>
<rect x="1553.7" y="1258.1" width="8.0" height="8.0" fill="#ff00ff"/>
<rect x="1561.3" y="1258.1" width="8.0" height="8.0" fill="#ff00ff"/>
<rect x="1568.8" y="1261.4" width="8.0" height="8.0" fill="#ff00ff"/>
<rect x="1575.5" y="1254.7" width="8.0" height="8.0" fill="#ff00ff"/>
<rect x="1583.0" y="1258.1" width="8.0" height="8.0" fill="#ff00ff"/>
<rect x="1590.6" y="1251.4" width="8.0" height="8.0" fill="#ff00ff"/>
<rect x="1597.3" y="1269.8" width="8.0" height="8.0" fill="#ff00ff"/>
<rect x="1603.9" y="1279.8" width="8.0" height="8.0" fill="#ff00ff"/>
<rect x="1610.6" y="1286.5" width="8.0" height="8.0" fill="#ff00ff"/>
<rect x="1612.9" y="1288.0" width="8.0" height="8.0" fill="#ff00ff"/>
<rect x="1620.1" y="1292.6" width="8.0" height="8.0" fill="#ff00ff"/>
<rect x="1627.3" y="1292.6" width="8.0" height="8.0" fill="#ff00ff"/>
<rect x="1634.5" y="1292.6" width="8.0" height="8.0" fill="#ff00ff"/>
<rect x="1641.7" y="1292.6" width="8.0" height="8.0" fill="#ff00ff"/>
<rect x="1648.9" y="1292.6" width="8.0" height="8.0" fill="#ff00ff"/>
<rect x="1656.1" y="1292.6" width="8.0" height="8.0" fill="#ff00ff"/>
<rect x="1663.3" y="1292.6" width="8.0" height="8.0" fill="#ff00ff"/>
<rect x="1670.5" y="1292.6" width="8.0" height="8.0" fill="#ff00ff"/>
<rect x="1677.7" y="1292.6" width="8.0" height="8.0" fill="#ff00ff"/>
<rect x="1684.9" y="1292.6" width="8.0" height="8.0" fill="#ff00ff"/>
<rect x="1692.1" y="1292.6" width="8.0" height="8.0" fill="#ff00ff"/>
<rect x="1699.3" y="1292.6" width="8.0" height="8.0" fill="#ff00ff"/>
<rect x="1706.5" y="1292.6" width="8.0" height="8.0" fill="#ff00ff"/>
<rect x="1713.7" y="1292.6" width="8.0" height="8.0" fill="#ff00ff"/>
<rect x="1720.9" y="1292.6" width="8.0" height="8.0" fill="#ff00ff"/>
<rect x="1728.1" y="1292.6" width="8.0" height="8.0" fill="#ff00ff"/>
<rect x="1735.3" y="1292.6" width="8.0" height="8.0" fill="#ff00ff"/>
<rect x="1742.5" y="1292.6" width="8.0" height="8.0" fill="#ff00ff"/>
<rect x="1749.7" y="1292.6" width="8.0" height="8.0" fill="#ff00ff"/>
<rect x="1756.9" y="1292.6" width="8.0" height="8.0" fill="#ff00ff"/>
<rect x="1764.1" y="1292.6" width="8.0" height="8.0" fill="#ff00ff"/>
<rect x="1771.3" y="1292.6" width="8.0" height="8.0" fill="#ff00ff"/>
<rect x="1778.5" y="1292.6" width="8.0" height="8.0" fill="#ff00ff"/>
<rect x="1785.7" y="1292.6" width="8.0" height="8.0" fill="#ff00ff"/>
<rect x="1792.9" y="1292.6" width="8.0" height="8.0" fill="#ff00ff"/>
<rect x="1800.1" y="1292.6" width="8.0" height="8.0" fill="#ff00ff"/>
<rect x="1807.3" y="1292.6" width="8.0" height="8.0" fill="#ff00ff"/>
<rect x="1814.5" y="1292.6" width="8.0" height="8.0" fill="#ff00ff"/>
<rect x="1821.7" y="1292.6" width="8.0" height="8.0" fill="#ff00ff"/>
<rect x="1828.9" y="1292.6" width="8.0" height="8.0" fill="#ff00ff"/>
<rect x="1836.1" y="1292.6" width="8.0" height="8.0" fill="#ff00ff"/>
<rect x="1843.3" y="1292.6" width="8.0" height="8.0" fill="#ff00ff"/>
<rect x="1850.5" y="1292.6" width="8.0" height="8.0" fill="#ff00ff"/>
<path d="M245.0 1295.5 L252.2 1295.5 L259.4 1295.5 L266.6 1295.5 L273.8 1295.5 L281.0 1295.5 L288.2 1295.5 L295.4 1295.5 L302.6 1295.5 L309.8 1295.5 L317.0 1295.5 L324.2 1295.5 L331.4 1295.5 L338.6 1295.5 L345.8 1295.5 L353.0 1295.5 L360.2 1295.5 L367.4 1295.5 L374.6 1295.5 L381.8 1295.5 L389.0 1295.5 L396.2 1295.5 L403.4 1295.5 L410.6 1295.5 L417.8 1295.5 L425.0 1295.5 L432.2 1295.5 L439.3 1289.5 L446.6 1295.5 L453.8 1295.5 L458.6 1292.2 L463.6 1287.2 L467.8 1277.2 L473.6 1265.4 L478.7 1253.7 L482.0 1238.7 L488.7 1228.6 L495.4 1232.0 L503.8 1228.6 L510.5 1215.2 L517.2 1220.3 L525.5 1221.9 L532.2 1220.3 L538.9 1232.0 L545.6 1210.2 L553.1 1205.2 L560.7 1205.2 L567.4 1216.9 L574.9 1191.8 L582.4 1211.9 L590.0 1184.3 L596.7 1198.5 L603.3 1176.7 L611.7 1185.1 L619.2 1215.2 L625.9 1215.2 L631.8 1227.8 L639.3 1201.8 L646.9 1211.9 L654.4 1178.4 L661.1 1201.8 L668.6 1188.5 L676.2 1175.9 L682.8 1195.1 L689.5 1211.0 L697.1 1193.5 L704.6 1186.8 L711.3 1199.3 L718.0 1201.8 L725.1 1193.5 L731.8 1183.4 L738.5 1193.5 L746.9 1176.7 L754.4 1198.5 L761.9 1180.1 L769.5 1174.2 L776.2 1188.5 L782.8 1203.5 L790.4 1191.8 L797.1 1208.5 L804.6 1206.9 L812.1 1175.9 L818.8 1193.5 L825.5 1208.5 L833.1 1198.5 L840.6 1190.1 L848.1 1183.4 L854.8 1177.6 L861.5 1188.5 L869.0 1185.1 L876.6 1178.4 L884.1 1181.8 L890.8 1190.1 L897.5 1198.5 L905.0 1190.1 L912.6 1203.5 L919.2 1190.1 L925.9 1191.8 L933.5 1191.8 L941.0 1203.5 L947.7 1198.5 L955.2 1188.5 L962.8 1186.8 L969.5 1193.5 L976.2 1206.9 L983.7 1206.9 L990.4 1190.1 L997.9 1198.5 L1005.4 1191.8 L1012.1 1200.2 L1018.0 1206.9 L1020.1 1206.9 L1027.6 1186.8 L1033.5 1191.8 L1040.2 1198.5 L1046.9 1196.8 L1055.2 1180.1 L1062.8 1198.5 L1070.3 1171.7 L1077.0 1191.8 L1083.7 1188.5 L1091.2 1190.1 L1098.7 1195.1 L1106.3 1200.2 L1113.8 1220.3 L1120.5 1196.8 L1127.2 1210.2 L1134.7 1211.9 L1142.3 1206.9 L1149.0 1195.1 L1156.5 1196.8 L1163.2 1201.8 L1170.7 1210.2 L1177.4 1192.6 L1184.9 1206.9 L1192.5 1196.8 L1199.2 1211.9 L1206.7 1216.9 L1213.4 1193.5 L1220.9 1188.5 L1228.5 1178.4 L1235.1 1193.5 L1242.7 1195.1 L1249.4 1201.8 L1256.1 1196.8 L1263.6 1210.2 L1271.1 1186.8 L1278.7 1220.3 L1285.4 1193.5 L1292.1 1183.4 L1299.6 1201.8 L1307.1 1191.8 L1313.0 1205.2 L1318.8 1183.4 L1327.6 1203.5 L1335.1 1205.2 L1341.8 1193.5 L1349.4 1181.8 L1356.9 1205.2 L1363.6 1206.9 L1371.1 1210.2 L1378.7 1196.8 L1385.4 1200.2 L1392.1 1206.9 L1399.6 1198.5 L1407.1 1188.5 L1413.8 1193.5 L1421.3 1196.8 L1428.9 1183.4 L1435.6 1198.5 L1443.1 1193.5 L1449.8 1198.5 L1457.3 1198.5 L1464.9 1210.2 L1472.4 1200.2 L1479.9 1190.1 L1486.6 1198.5 L1493.3 1193.5 L1500.8 1205.2 L1507.5 1210.2 L1515.1 1206.9 L1522.6 1198.5 L1529.3 1218.6 L1536.0 1228.6 L1542.7 1203.5 L1550.2 1198.5 L1557.7 1226.9 L1565.3 1230.3 L1572.8 1225.3 L1579.5 1208.5 L1587.0 1220.3 L1593.7 1237.0 L1601.3 1248.7 L1607.9 1267.1 L1614.6 1278.8 L1618.8 1292.2 L1620.3 1287.8 L1623.6 1292.0 L1630.8 1295.5 L1638.0 1295.5 L1645.2 1295.5 L1652.4 1295.5 L1659.6 1295.5 L1666.8 1295.5 L1674.0 1295.5 L1681.2 1295.5 L1688.4 1295.5 L1695.6 1295.5 L1702.8 1295.5 L1710.0 1295.5 L1717.2 1295.5 L1724.4 1295.5 L1731.6 1295.5 L1738.8 1295.5 L1746.0 1295.5 L1753.2 1295.5 L1760.4 1295.5 L1767.6 1295.5 L1774.8 1295.5 L1782.0 1295.5 L1789.2 1295.5 L1796.4 1295.5 L1803.6 1295.5 L1810.8 1295.5 L1818.0 1295.5 L1825.2 1295.5 L1832.4 1295.5 L1839.6 1295.5 L1846.8 1295.5 L1854.0 1295.5" fill="none" stroke="#0000ff" stroke-width="2.3" stroke-linejoin="round"/>
<path d="M245.0 1289.5L251.5 1300.0L238.5 1300.0Z" fill="#0000ff"/>
<path d="M252.2 1289.5L258.7 1300.0L245.7 1300.0Z" fill="#0000ff"/>
<path d="M259.4 1289.5L265.9 1300.0L252.9 1300.0Z" fill="#0000ff"/>
<path d="M266.6 1289.5L273.1 1300.0L260.1 1300.0Z" fill="#0000ff"/>
<path d="M273.8 1289.5L280.3 1300.0L267.3 1300.0Z" fill="#0000ff"/>
<path d="M281.0 1289.5L287.5 1300.0L274.5 1300.0Z" fill="#0000ff"/>
<path d="M288.2 1289.5L294.7 1300.0L281.7 1300.0Z" fill="#0000ff"/>
<path d="M295.4 1289.5L301.9 1300.0L288.9 1300.0Z" fill="#0000ff"/>
<path d="M302.6 1289.5L309.1 1300.0L296.1 1300.0Z" fill="#0000ff"/>
<path d="M309.8 1289.5L316.3 1300.0L303.3 1300.0Z" fill="#0000ff"/>
<path d="M317.0 1289.5L323.5 1300.0L310.5 1300.0Z" fill="#0000ff"/>
<path d="M324.2 1289.5L330.7 1300.0L317.7 1300.0Z" fill="#0000ff"/>
<path d="M331.4 1289.5L337.9 1300.0L324.9 1300.0Z" fill="#0000ff"/>
<path d="M338.6 1289.5L345.1 1300.0L332.1 1300.0Z" fill="#0000ff"/>
<path d="M345.8 1289.5L352.3 1300.0L339.3 1300.0Z" fill="#0000ff"/>
<path d="M353.0 1289.5L359.5 1300.0L346.5 1300.0Z" fill="#0000ff"/>
<path d="M360.2 1289.5L366.7 1300.0L353.7 1300.0Z" fill="#0000ff"/>
<path d="M367.4 1289.5L373.9 1300.0L360.9 1300.0Z" fill="#0000ff"/>
<path d="M374.6 1289.5L381.1 1300.0L368.1 1300.0Z" fill="#0000ff"/>
<path d="M381.8 1289.5L388.3 1300.0L375.3 1300.0Z" fill="#0000ff"/>
<path d="M389.0 1289.5L395.5 1300.0L382.5 1300.0Z" fill="#0000ff"/>
<path d="M396.2 1289.5L402.7 1300.0L389.7 1300.0Z" fill="#0000ff"/>
<path d="M403.4 1289.5L409.9 1300.0L396.9 1300.0Z" fill="#0000ff"/>
<path d="M410.6 1289.5L417.1 1300.0L404.1 1300.0Z" fill="#0000ff"/>
<path d="M417.8 1289.5L424.3 1300.0L411.3 1300.0Z" fill="#0000ff"/>
<path d="M425.0 1289.5L431.5 1300.0L418.5 1300.0Z" fill="#0000ff"/>
<path d="M432.2 1289.5L438.7 1300.0L425.7 1300.0Z" fill="#0000ff"/>
<path d="M439.3 1283.5L445.8 1294.0L432.8 1294.0Z" fill="#0000ff"/>
<path d="M446.6 1289.5L453.1 1300.0L440.1 1300.0Z" fill="#0000ff"/>
<path d="M453.8 1289.5L460.3 1300.0L447.3 1300.0Z" fill="#0000ff"/>
<path d="M458.6 1286.2L465.1 1296.7L452.1 1296.7Z" fill="#0000ff"/>
<path d="M463.6 1281.2L470.1 1291.7L457.1 1291.7Z" fill="#0000ff"/>
<path d="M467.8 1271.2L474.3 1281.7L461.3 1281.7Z" fill="#0000ff"/>
<path d="M473.6 1259.4L480.1 1269.9L467.1 1269.9Z" fill="#0000ff"/>
<path d="M478.7 1247.7L485.2 1258.2L472.2 1258.2Z" fill="#0000ff"/>
<path d="M482.0 1232.7L488.5 1243.2L475.5 1243.2Z" fill="#0000ff"/>
<path d="M488.7 1222.6L495.2 1233.1L482.2 1233.1Z" fill="#0000ff"/>
<path d="M495.4 1226.0L501.9 1236.5L488.9 1236.5Z" fill="#0000ff"/>
<path d="M503.8 1222.6L510.3 1233.1L497.3 1233.1Z" fill="#0000ff"/>
<path d="M510.5 1209.2L517.0 1219.7L504.0 1219.7Z" fill="#0000ff"/>
<path d="M517.2 1214.3L523.7 1224.8L510.7 1224.8Z" fill="#0000ff"/>
<path d="M525.5 1215.9L532.0 1226.4L519.0 1226.4Z" fill="#0000ff"/>
<path d="M532.2 1214.3L538.7 1224.8L525.7 1224.8Z" fill="#0000ff"/>
<path d="M538.9 1226.0L545.4 1236.5L532.4 1236.5Z" fill="#0000ff"/>
<path d="M545.6 1204.2L552.1 1214.7L539.1 1214.7Z" fill="#0000ff"/>
<path d="M553.1 1199.2L559.6 1209.7L546.6 1209.7Z" fill="#0000ff"/>
<path d="M560.7 1199.2L567.2 1209.7L554.2 1209.7Z" fill="#0000ff"/>
<path d="M567.4 1210.9L573.9 1221.4L560.9 1221.4Z" fill="#0000ff"/>
<path d="M574.9 1185.8L581.4 1196.3L568.4 1196.3Z" fill="#0000ff"/>
<path d="M582.4 1205.9L588.9 1216.4L575.9 1216.4Z" fill="#0000ff"/>
<path d="M590.0 1178.3L596.5 1188.8L583.5 1188.8Z" fill="#0000ff"/>
<path d="M596.7 1192.5L603.2 1203.0L590.2 1203.0Z" fill="#0000ff"/>
<path d="M603.3 1170.7L609.8 1181.2L596.8 1181.2Z" fill="#0000ff"/>
<path d="M611.7 1179.1L618.2 1189.6L605.2 1189.6Z" fill="#0000ff"/>
<path d="M619.2 1209.2L625.7 1219.7L612.7 1219.7Z" fill="#0000ff"/>
<path d="M625.9 1209.2L632.4 1219.7L619.4 1219.7Z" fill="#0000ff"/>
<path d="M631.8 1221.8L638.3 1232.3L625.3 1232.3Z" fill="#0000ff"/>
<path d="M639.3 1195.8L645.8 1206.3L632.8 1206.3Z" fill="#0000ff"/>
<path d="M646.9 1205.9L653.4 1216.4L640.4 1216.4Z" fill="#0000ff"/>
<path d="M654.4 1172.4L660.9 1182.9L647.9 1182.9Z" fill="#0000ff"/>
<path d="M661.1 1195.8L667.6 1206.3L654.6 1206.3Z" fill="#0000ff"/>
<path d="M668.6 1182.5L675.1 1193.0L662.1 1193.0Z" fill="#0000ff"/>
<path d="M676.2 1169.9L682.7 1180.4L669.7 1180.4Z" fill="#0000ff"/>
<path d="M682.8 1189.1L689.3 1199.6L676.3 1199.6Z" fill="#0000ff"/>
<path d="M689.5 1205.0L696.0 1215.5L683.0 1215.5Z" fill="#0000ff"/>
<path d="M697.1 1187.5L703.6 1198.0L690.6 1198.0Z" fill="#0000ff"/>
<path d="M704.6 1180.8L711.1 1191.3L698.1 1191.3Z" fill="#0000ff"/>
<path d="M711.3 1193.3L717.8 1203.8L704.8 1203.8Z" fill="#0000ff"/>
<path d="M718.0 1195.8L724.5 1206.3L711.5 1206.3Z" fill="#0000ff"/>
<path d="M725.1 1187.5L731.6 1198.0L718.6 1198.0Z" fill="#0000ff"/>
<path d="M731.8 1177.4L738.3 1187.9L725.3 1187.9Z" fill="#0000ff"/>
<path d="M738.5 1187.5L745.0 1198.0L732.0 1198.0Z" fill="#0000ff"/>
<path d="M746.9 1170.7L753.4 1181.2L740.4 1181.2Z" fill="#0000ff"/>
<path d="M754.4 1192.5L760.9 1203.0L747.9 1203.0Z" fill="#0000ff"/>
<path d="M761.9 1174.1L768.4 1184.6L755.4 1184.6Z" fill="#0000ff"/>
<path d="M769.5 1168.2L776.0 1178.7L763.0 1178.7Z" fill="#0000ff"/>
<path d="M776.2 1182.5L782.7 1193.0L769.7 1193.0Z" fill="#0000ff"/>
<path d="M782.8 1197.5L789.3 1208.0L776.3 1208.0Z" fill="#0000ff"/>
<path d="M790.4 1185.8L796.9 1196.3L783.9 1196.3Z" fill="#0000ff"/>
<path d="M797.1 1202.5L803.6 1213.0L790.6 1213.0Z" fill="#0000ff"/>
<path d="M804.6 1200.9L811.1 1211.4L798.1 1211.4Z" fill="#0000ff"/>
<path d="M812.1 1169.9L818.6 1180.4L805.6 1180.4Z" fill="#0000ff"/>
<path d="M818.8 1187.5L825.3 1198.0L812.3 1198.0Z" fill="#0000ff"/>
<path d="M825.5 1202.5L832.0 1213.0L819.0 1213.0Z" fill="#0000ff"/>
<path d="M833.1 1192.5L839.6 1203.0L826.6 1203.0Z" fill="#0000ff"/>
<path d="M840.6 1184.1L847.1 1194.6L834.1 1194.6Z" fill="#0000ff"/>
<path d="M848.1 1177.4L854.6 1187.9L841.6 1187.9Z" fill="#0000ff"/>
<path d="M854.8 1171.6L861.3 1182.1L848.3 1182.1Z" fill="#0000ff"/>
<path d="M861.5 1182.5L868.0 1193.0L855.0 1193.0Z" fill="#0000ff"/>
<path d="M869.0 1179.1L875.5 1189.6L862.5 1189.6Z" fill="#0000ff"/>
<path d="M876.6 1172.4L883.1 1182.9L870.1 1182.9Z" fill="#0000ff"/>
<path d="M884.1 1175.8L890.6 1186.3L877.6 1186.3Z" fill="#0000ff"/>
<path d="M890.8 1184.1L897.3 1194.6L884.3 1194.6Z" fill="#0000ff"/>
<path d="M897.5 1192.5L904.0 1203.0L891.0 1203.0Z" fill="#0000ff"/>
<path d="M905.0 1184.1L911.5 1194.6L898.5 1194.6Z" fill="#0000ff"/>
<path d="M912.6 1197.5L919.1 1208.0L906.1 1208.0Z" fill="#0000ff"/>
<path d="M919.2 1184.1L925.7 1194.6L912.7 1194.6Z" fill="#0000ff"/>
<path d="M925.9 1185.8L932.4 1196.3L919.4 1196.3Z" fill="#0000ff"/>
<path d="M933.5 1185.8L940.0 1196.3L927.0 1196.3Z" fill="#0000ff"/>
<path d="M941.0 1197.5L947.5 1208.0L934.5 1208.0Z" fill="#0000ff"/>
<path d="M947.7 1192.5L954.2 1203.0L941.2 1203.0Z" fill="#0000ff"/>
<path d="M955.2 1182.5L961.7 1193.0L948.7 1193.0Z" fill="#0000ff"/>
<path d="M962.8 1180.8L969.3 1191.3L956.3 1191.3Z" fill="#0000ff"/>
<path d="M969.5 1187.5L976.0 1198.0L963.0 1198.0Z" fill="#0000ff"/>
<path d="M976.2 1200.9L982.7 1211.4L969.7 1211.4Z" fill="#0000ff"/>
<path d="M983.7 1200.9L990.2 1211.4L977.2 1211.4Z" fill="#0000ff"/>
<path d="M990.4 1184.1L996.9 1194.6L983.9 1194.6Z" fill="#0000ff"/>
<path d="M997.9 1192.5L1004.4 1203.0L991.4 1203.0Z" fill="#0000ff"/>
<path d="M1005.4 1185.8L1011.9 1196.3L998.9 1196.3Z" fill="#0000ff"/>
<path d="M1012.1 1194.2L1018.6 1204.7L1005.6 1204.7Z" fill="#0000ff"/>
<path d="M1018.0 1200.9L1024.5 1211.4L1011.5 1211.4Z" fill="#0000ff"/>
<path d="M1020.1 1200.9L1026.6 1211.4L1013.6 1211.4Z" fill="#0000ff"/>
<path d="M1027.6 1180.8L1034.1 1191.3L1021.1 1191.3Z" fill="#0000ff"/>
<path d="M1033.5 1185.8L1040.0 1196.3L1027.0 1196.3Z" fill="#0000ff"/>
<path d="M1040.2 1192.5L1046.7 1203.0L1033.7 1203.0Z" fill="#0000ff"/>
<path d="M1046.9 1190.8L1053.4 1201.3L1040.4 1201.3Z" fill="#0000ff"/>
<path d="M1055.2 1174.1L1061.7 1184.6L1048.7 1184.6Z" fill="#0000ff"/>
<path d="M1062.8 1192.5L1069.3 1203.0L1056.3 1203.0Z" fill="#0000ff"/>
<path d="M1070.3 1165.7L1076.8 1176.2L1063.8 1176.2Z" fill="#0000ff"/>
<path d="M1077.0 1185.8L1083.5 1196.3L1070.5 1196.3Z" fill="#0000ff"/>
<path d="M1083.7 1182.5L1090.2 1193.0L1077.2 1193.0Z" fill="#0000ff"/>
<path d="M1091.2 1184.1L1097.7 1194.6L1084.7 1194.6Z" fill="#0000ff"/>
<path d="M1098.7 1189.1L1105.2 1199.6L1092.2 1199.6Z" fill="#0000ff"/>
<path d="M1106.3 1194.2L1112.8 1204.7L1099.8 1204.7Z" fill="#0000ff"/>
<path d="M1113.8 1214.3L1120.3 1224.8L1107.3 1224.8Z" fill="#0000ff"/>
<path d="M1120.5 1190.8L1127.0 1201.3L1114.0 1201.3Z" fill="#0000ff"/>
<path d="M1127.2 1204.2L1133.7 1214.7L1120.7 1214.7Z" fill="#0000ff"/>
<path d="M1134.7 1205.9L1141.2 1216.4L1128.2 1216.4Z" fill="#0000ff"/>
<path d="M1142.3 1200.9L1148.8 1211.4L1135.8 1211.4Z" fill="#0000ff"/>
<path d="M1149.0 1189.1L1155.5 1199.6L1142.5 1199.6Z" fill="#0000ff"/>
<path d="M1156.5 1190.8L1163.0 1201.3L1150.0 1201.3Z" fill="#0000ff"/>
<path d="M1163.2 1195.8L1169.7 1206.3L1156.7 1206.3Z" fill="#0000ff"/>
<path d="M1170.7 1204.2L1177.2 1214.7L1164.2 1214.7Z" fill="#0000ff"/>
<path d="M1177.4 1186.6L1183.9 1197.1L1170.9 1197.1Z" fill="#0000ff"/>
<path d="M1184.9 1200.9L1191.4 1211.4L1178.4 1211.4Z" fill="#0000ff"/>
<path d="M1192.5 1190.8L1199.0 1201.3L1186.0 1201.3Z" fill="#0000ff"/>
<path d="M1199.2 1205.9L1205.7 1216.4L1192.7 1216.4Z" fill="#0000ff"/>
<path d="M1206.7 1210.9L1213.2 1221.4L1200.2 1221.4Z" fill="#0000ff"/>
<path d="M1213.4 1187.5L1219.9 1198.0L1206.9 1198.0Z" fill="#0000ff"/>
<path d="M1220.9 1182.5L1227.4 1193.0L1214.4 1193.0Z" fill="#0000ff"/>
<path d="M1228.5 1172.4L1235.0 1182.9L1222.0 1182.9Z" fill="#0000ff"/>
<path d="M1235.1 1187.5L1241.6 1198.0L1228.6 1198.0Z" fill="#0000ff"/>
<path d="M1242.7 1189.1L1249.2 1199.6L1236.2 1199.6Z" fill="#0000ff"/>
<path d="M1249.4 1195.8L1255.9 1206.3L1242.9 1206.3Z" fill="#0000ff"/>
<path d="M1256.1 1190.8L1262.6 1201.3L1249.6 1201.3Z" fill="#0000ff"/>
<path d="M1263.6 1204.2L1270.1 1214.7L1257.1 1214.7Z" fill="#0000ff"/>
<path d="M1271.1 1180.8L1277.6 1191.3L1264.6 1191.3Z" fill="#0000ff"/>
<path d="M1278.7 1214.3L1285.2 1224.8L1272.2 1224.8Z" fill="#0000ff"/>
<path d="M1285.4 1187.5L1291.9 1198.0L1278.9 1198.0Z" fill="#0000ff"/>
<path d="M1292.1 1177.4L1298.6 1187.9L1285.6 1187.9Z" fill="#0000ff"/>
<path d="M1299.6 1195.8L1306.1 1206.3L1293.1 1206.3Z" fill="#0000ff"/>
<path d="M1307.1 1185.8L1313.6 1196.3L1300.6 1196.3Z" fill="#0000ff"/>
<path d="M1313.0 1199.2L1319.5 1209.7L1306.5 1209.7Z" fill="#0000ff"/>
<path d="M1318.8 1177.4L1325.3 1187.9L1312.3 1187.9Z" fill="#0000ff"/>
<path d="M1327.6 1197.5L1334.1 1208.0L1321.1 1208.0Z" fill="#0000ff"/>
<path d="M1335.1 1199.2L1341.6 1209.7L1328.6 1209.7Z" fill="#0000ff"/>
<path d="M1341.8 1187.5L1348.3 1198.0L1335.3 1198.0Z" fill="#0000ff"/>
<path d="M1349.4 1175.8L1355.9 1186.3L1342.9 1186.3Z" fill="#0000ff"/>
<path d="M1356.9 1199.2L1363.4 1209.7L1350.4 1209.7Z" fill="#0000ff"/>
<path d="M1363.6 1200.9L1370.1 1211.4L1357.1 1211.4Z" fill="#0000ff"/>
<path d="M1371.1 1204.2L1377.6 1214.7L1364.6 1214.7Z" fill="#0000ff"/>
<path d="M1378.7 1190.8L1385.2 1201.3L1372.2 1201.3Z" fill="#0000ff"/>
<path d="M1385.4 1194.2L1391.9 1204.7L1378.9 1204.7Z" fill="#0000ff"/>
<path d="M1392.1 1200.9L1398.6 1211.4L1385.6 1211.4Z" fill="#0000ff"/>
<path d="M1399.6 1192.5L1406.1 1203.0L1393.1 1203.0Z" fill="#0000ff"/>
<path d="M1407.1 1182.5L1413.6 1193.0L1400.6 1193.0Z" fill="#0000ff"/>
<path d="M1413.8 1187.5L1420.3 1198.0L1407.3 1198.0Z" fill="#0000ff"/>
<path d="M1421.3 1190.8L1427.8 1201.3L1414.8 1201.3Z" fill="#0000ff"/>
<path d="M1428.9 1177.4L1435.4 1187.9L1422.4 1187.9Z" fill="#0000ff"/>
<path d="M1435.6 1192.5L1442.1 1203.0L1429.1 1203.0Z" fill="#0000ff"/>
<path d="M1443.1 1187.5L1449.6 1198.0L1436.6 1198.0Z" fill="#0000ff"/>
<path d="M1449.8 1192.5L1456.3 1203.0L1443.3 1203.0Z" fill="#0000ff"/>
<path d="M1457.3 1192.5L1463.8 1203.0L1450.8 1203.0Z" fill="#0000ff"/>
<path d="M1464.9 1204.2L1471.4 1214.7L1458.4 1214.7Z" fill="#0000ff"/>
<path d="M1472.4 1194.2L1478.9 1204.7L1465.9 1204.7Z" fill="#0000ff"/>
<path d="M1479.9 1184.1L1486.4 1194.6L1473.4 1194.6Z" fill="#0000ff"/>
<path d="M1486.6 1192.5L1493.1 1203.0L1480.1 1203.0Z" fill="#0000ff"/>
<path d="M1493.3 1187.5L1499.8 1198.0L1486.8 1198.0Z" fill="#0000ff"/>
<path d="M1500.8 1199.2L1507.3 1209.7L1494.3 1209.7Z" fill="#0000ff"/>
<path d="M1507.5 1204.2L1514.0 1214.7L1501.0 1214.7Z" fill="#0000ff"/>
<path d="M1515.1 1200.9L1521.6 1211.4L1508.6 1211.4Z" fill="#0000ff"/>
<path d="M1522.6 1192.5L1529.1 1203.0L1516.1 1203.0Z" fill="#0000ff"/>
<path d="M1529.3 1212.6L1535.8 1223.1L1522.8 1223.1Z" fill="#0000ff"/>
<path d="M1536.0 1222.6L1542.5 1233.1L1529.5 1233.1Z" fill="#0000ff"/>
<path d="M1542.7 1197.5L1549.2 1208.0L1536.2 1208.0Z" fill="#0000ff"/>
<path d="M1550.2 1192.5L1556.7 1203.0L1543.7 1203.0Z" fill="#0000ff"/>
<path d="M1557.7 1220.9L1564.2 1231.4L1551.2 1231.4Z" fill="#0000ff"/>
<path d="M1565.3 1224.3L1571.8 1234.8L1558.8 1234.8Z" fill="#0000ff"/>
<path d="M1572.8 1219.3L1579.3 1229.8L1566.3 1229.8Z" fill="#0000ff"/>
<path d="M1579.5 1202.5L1586.0 1213.0L1573.0 1213.0Z" fill="#0000ff"/>
<path d="M1587.0 1214.3L1593.5 1224.8L1580.5 1224.8Z" fill="#0000ff"/>
<path d="M1593.7 1231.0L1600.2 1241.5L1587.2 1241.5Z" fill="#0000ff"/>
<path d="M1601.3 1242.7L1607.8 1253.2L1594.8 1253.2Z" fill="#0000ff"/>
<path d="M1607.9 1261.1L1614.4 1271.6L1601.4 1271.6Z" fill="#0000ff"/>
<path d="M1614.6 1272.8L1621.1 1283.3L1608.1 1283.3Z" fill="#0000ff"/>
<path d="M1618.8 1286.2L1625.3 1296.7L1612.3 1296.7Z" fill="#0000ff"/>
<path d="M1620.3 1281.8L1626.8 1292.3L1613.8 1292.3Z" fill="#0000ff"/>
<path d="M1623.6 1286.0L1630.1 1296.5L1617.1 1296.5Z" fill="#0000ff"/>
<path d="M1630.8 1289.5L1637.3 1300.0L1624.3 1300.0Z" fill="#0000ff"/>
<path d="M1638.0 1289.5L1644.5 1300.0L1631.5 1300.0Z" fill="#0000ff"/>
<path d="M1645.2 1289.5L1651.7 1300.0L1638.7 1300.0Z" fill="#0000ff"/>
<path d="M1652.4 1289.5L1658.9 1300.0L1645.9 1300.0Z" fill="#0000ff"/>
<path d="M1659.6 1289.5L1666.1 1300.0L1653.1 1300.0Z" fill="#0000ff"/>
<path d="M1666.8 1289.5L1673.3 1300.0L1660.3 1300.0Z" fill="#0000ff"/>
<path d="M1674.0 1289.5L1680.5 1300.0L1667.5 1300.0Z" fill="#0000ff"/>
<path d="M1681.2 1289.5L1687.7 1300.0L1674.7 1300.0Z" fill="#0000ff"/>
<path d="M1688.4 1289.5L1694.9 1300.0L1681.9 1300.0Z" fill="#0000ff"/>
<path d="M1695.6 1289.5L1702.1 1300.0L1689.1 1300.0Z" fill="#0000ff"/>
<path d="M1702.8 1289.5L1709.3 1300.0L1696.3 1300.0Z" fill="#0000ff"/>
<path d="M1710.0 1289.5L1716.5 1300.0L1703.5 1300.0Z" fill="#0000ff"/>
<path d="M1717.2 1289.5L1723.7 1300.0L1710.7 1300.0Z" fill="#0000ff"/>
<path d="M1724.4 1289.5L1730.9 1300.0L1717.9 1300.0Z" fill="#0000ff"/>
<path d="M1731.6 1289.5L1738.1 1300.0L1725.1 1300.0Z" fill="#0000ff"/>
<path d="M1738.8 1289.5L1745.3 1300.0L1732.3 1300.0Z" fill="#0000ff"/>
<path d="M1746.0 1289.5L1752.5 1300.0L1739.5 1300.0Z" fill="#0000ff"/>
<path d="M1753.2 1289.5L1759.7 1300.0L1746.7 1300.0Z" fill="#0000ff"/>
<path d="M1760.4 1289.5L1766.9 1300.0L1753.9 1300.0Z" fill="#0000ff"/>
<path d="M1767.6 1289.5L1774.1 1300.0L1761.1 1300.0Z" fill="#0000ff"/>
<path d="M1774.8 1289.5L1781.3 1300.0L1768.3 1300.0Z" fill="#0000ff"/>
<path d="M1782.0 1289.5L1788.5 1300.0L1775.5 1300.0Z" fill="#0000ff"/>
<path d="M1789.2 1289.5L1795.7 1300.0L1782.7 1300.0Z" fill="#0000ff"/>
<path d="M1796.4 1289.5L1802.9 1300.0L1789.9 1300.0Z" fill="#0000ff"/>
<path d="M1803.6 1289.5L1810.1 1300.0L1797.1 1300.0Z" fill="#0000ff"/>
<path d="M1810.8 1289.5L1817.3 1300.0L1804.3 1300.0Z" fill="#0000ff"/>
<path d="M1818.0 1289.5L1824.5 1300.0L1811.5 1300.0Z" fill="#0000ff"/>
<path d="M1825.2 1289.5L1831.7 1300.0L1818.7 1300.0Z" fill="#0000ff"/>
<path d="M1832.4 1289.5L1838.9 1300.0L1825.9 1300.0Z" fill="#0000ff"/>
<path d="M1839.6 1289.5L1846.1 1300.0L1833.1 1300.0Z" fill="#0000ff"/>
<path d="M1846.8 1289.5L1853.3 1300.0L1840.3 1300.0Z" fill="#0000ff"/>
<path d="M1854.0 1289.5L1860.5 1300.0L1847.5 1300.0Z" fill="#0000ff"/>
<path d="M245.0 483.6 L253.4 488.6 L260.1 492.8 L265.1 488.6 L273.5 480.2 L281.8 485.2 L288.5 496.9 L295.2 503.6 L301.9 488.6 L308.6 480.2 L317.0 493.6 L323.7 478.5 L331.2 491.9 L338.7 496.9 L345.4 477.7 L353.8 486.9 L360.5 495.3 L367.2 490.3 L373.9 498.6 L382.3 481.0 L390.6 485.2 L397.3 488.6 L404.0 488.6 L410.7 498.6 L417.4 488.6 L424.1 486.9 L431.6 455.1 L438.3 495.3 L445.9 550.5 L451.7 484.4 L459.2 480.2 L467.6 485.2 L476.0 496.9 L481.0 508.7 L489.4 503.6 L496.1 513.7 L504.4 515.4 L511.1 517.0 L517.8 523.7 L524.5 503.6 L532.9 508.7 L539.6 538.8 L546.3 543.8 L554.6 522.1 L561.8 526.9 L567.6 543.7 L574.3 524.4 L581.8 557.1 L588.5 529.5 L596.9 540.3 L604.4 537.0 L611.1 515.2 L617.8 528.6 L624.5 540.3 L632.1 516.9 L640.4 521.9 L645.4 545.4 L653.8 535.3 L660.5 565.4 L668.9 525.3 L675.6 537.0 L683.9 535.3 L690.6 543.7 L698.2 558.7 L704.9 558.7 L710.7 537.0 L717.4 535.3 L724.1 526.9 L731.6 550.4 L739.2 532.0 L747.5 524.4 L754.2 550.4 L760.9 550.4 L767.6 545.4 L775.1 557.1 L781.8 537.0 L789.4 535.3 L797.7 530.3 L804.4 538.7 L811.1 508.5 L817.8 547.0 L824.5 537.0 L832.9 548.7 L839.6 521.9 L847.9 538.7 L855.5 552.1 L861.8 548.7 L868.5 563.8 L875.1 560.4 L882.7 535.3 L889.4 547.0 L896.9 563.8 L903.6 540.3 L912.0 529.5 L919.5 552.1 L927.0 530.3 L933.7 526.9 L940.4 532.0 L948.8 537.0 L956.3 548.7 L962.2 525.3 L970.5 552.1 L977.2 552.1 L983.9 533.6 L990.6 547.0 L997.3 508.5 L1005.7 547.0 L1013.2 515.2 L1019.9 540.3 L1029.1 518.6 L1035.0 518.6 L1042.5 537.0 L1049.2 540.3 L1055.9 537.0 L1060.9 525.3 L1069.3 519.4 L1077.7 543.7 L1084.4 524.4 L1092.7 525.3 L1100.3 526.9 L1106.9 516.9 L1114.5 530.3 L1121.2 535.3 L1128.7 543.7 L1135.4 543.7 L1141.3 501.8 L1149.6 550.4 L1156.3 533.6 L1165.1 535.3 L1173.5 538.7 L1180.2 542.0 L1185.2 545.4 L1191.9 520.3 L1198.6 538.7 L1206.1 540.3 L1213.6 521.9 L1221.2 511.9 L1228.7 530.3 L1235.4 538.7 L1242.1 547.0 L1248.8 521.9 L1257.2 523.6 L1263.8 552.1 L1270.5 552.1 L1278.9 557.1 L1286.4 547.0 L1292.3 521.9 L1299.0 530.3 L1305.7 540.3 L1313.2 516.9 L1319.9 532.0 L1328.3 555.4 L1335.0 533.6 L1340.8 521.9 L1348.4 513.6 L1355.9 503.5 L1364.3 511.9 L1371.0 543.7 L1377.7 533.6 L1384.4 542.0 L1391.0 530.3 L1399.4 506.9 L1406.1 545.4 L1414.5 547.0 L1421.2 540.3 L1427.9 553.7 L1434.6 542.0 L1442.9 516.9 L1449.6 511.9 L1457.2 532.0 L1465.1 533.7 L1471.8 540.4 L1478.5 491.9 L1486.9 500.3 L1493.6 506.9 L1500.3 532.1 L1506.9 527.0 L1513.6 525.4 L1522.0 540.4 L1528.7 528.7 L1536.2 527.0 L1543.8 535.4 L1552.1 545.4 L1558.8 545.4 L1565.5 508.6 L1572.2 532.1 L1578.9 506.9 L1585.6 498.6 L1594.0 486.9 L1600.7 503.6 L1607.4 490.2 L1615.7 488.5 L1623.3 477.7 L1630.8 481.0 L1638.3 483.5 L1645.0 493.6 L1651.7 496.9 L1659.2 488.5 L1665.9 486.9 L1672.6 481.0 L1679.3 493.6 L1686.0 485.2 L1694.4 481.0 L1701.1 496.9 L1707.8 490.2 L1714.5 491.9 L1722.8 486.0 L1729.5 496.9 L1736.2 486.0 L1743.8 493.6 L1751.3 501.9 L1758.8 485.2 L1764.4 478.5 L1770.2 477.7 L1774.4 479.3 L1780.3 477.7 L1784.4 480.2 L1788.6 481.0 L1793.6 483.5 L1798.7 481.8 L1802.8 482.7 L1807.0 486.9 L1811.2 488.5 L1815.4 492.7 L1819.6 491.0 L1823.8 491.9 L1827.9 488.5 L1832.1 486.9 L1836.3 482.7 L1840.5 479.3 L1844.7 476.8 L1848.9 477.7 L1853.9 480.2 L1857.2 488.5 L1858.9 496.9" fill="none" stroke="#00ff00" stroke-width="2.4" stroke-linejoin="round"/>
<path d="M245.0 489.6L251.5 479.1L238.5 479.1Z" fill="#00ff00"/>
<path d="M253.4 494.6L259.9 484.1L246.9 484.1Z" fill="#00ff00"/>
<path d="M260.1 498.8L266.6 488.3L253.6 488.3Z" fill="#00ff00"/>
<path d="M265.1 494.6L271.6 484.1L258.6 484.1Z" fill="#00ff00"/>
<path d="M273.5 486.2L280.0 475.7L267.0 475.7Z" fill="#00ff00"/>
<path d="M281.8 491.2L288.3 480.7L275.3 480.7Z" fill="#00ff00"/>
<path d="M288.5 502.9L295.0 492.4L282.0 492.4Z" fill="#00ff00"/>
<path d="M295.2 509.6L301.7 499.1L288.7 499.1Z" fill="#00ff00"/>
<path d="M301.9 494.6L308.4 484.1L295.4 484.1Z" fill="#00ff00"/>
<path d="M308.6 486.2L315.1 475.7L302.1 475.7Z" fill="#00ff00"/>
<path d="M317.0 499.6L323.5 489.1L310.5 489.1Z" fill="#00ff00"/>
<path d="M323.7 484.5L330.2 474.0L317.2 474.0Z" fill="#00ff00"/>
<path d="M331.2 497.9L337.7 487.4L324.7 487.4Z" fill="#00ff00"/>
<path d="M338.7 502.9L345.2 492.4L332.2 492.4Z" fill="#00ff00"/>
<path d="M345.4 483.7L351.9 473.2L338.9 473.2Z" fill="#00ff00"/>
<path d="M353.8 492.9L360.3 482.4L347.3 482.4Z" fill="#00ff00"/>
<path d="M360.5 501.3L367.0 490.8L354.0 490.8Z" fill="#00ff00"/>
<path d="M367.2 496.3L373.7 485.8L360.7 485.8Z" fill="#00ff00"/>
<path d="M373.9 504.6L380.4 494.1L367.4 494.1Z" fill="#00ff00"/>
<path d="M382.3 487.0L388.8 476.5L375.8 476.5Z" fill="#00ff00"/>
<path d="M390.6 491.2L397.1 480.7L384.1 480.7Z" fill="#00ff00"/>
<path d="M397.3 494.6L403.8 484.1L390.8 484.1Z" fill="#00ff00"/>
<path d="M404.0 494.6L410.5 484.1L397.5 484.1Z" fill="#00ff00"/>
<path d="M410.7 504.6L417.2 494.1L404.2 494.1Z" fill="#00ff00"/>
<path d="M417.4 494.6L423.9 484.1L410.9 484.1Z" fill="#00ff00"/>
<path d="M424.1 492.9L430.6 482.4L417.6 482.4Z" fill="#00ff00"/>
<path d="M431.6 461.1L438.1 450.6L425.1 450.6Z" fill="#00ff00"/>
<path d="M438.3 501.3L444.8 490.8L431.8 490.8Z" fill="#00ff00"/>
<path d="M445.9 556.5L452.4 546.0L439.4 546.0Z" fill="#00ff00"/>
<path d="M451.7 490.4L458.2 479.9L445.2 479.9Z" fill="#00ff00"/>
<path d="M459.2 486.2L465.7 475.7L452.7 475.7Z" fill="#00ff00"/>
<path d="M467.6 491.2L474.1 480.7L461.1 480.7Z" fill="#00ff00"/>
<path d="M476.0 502.9L482.5 492.4L469.5 492.4Z" fill="#00ff00"/>
<path d="M481.0 514.7L487.5 504.2L474.5 504.2Z" fill="#00ff00"/>
<path d="M489.4 509.6L495.9 499.1L482.9 499.1Z" fill="#00ff00"/>
<path d="M496.1 519.7L502.6 509.2L489.6 509.2Z" fill="#00ff00"/>
<path d="M504.4 521.4L510.9 510.9L497.9 510.9Z" fill="#00ff00"/>
<path d="M511.1 523.0L517.6 512.5L504.6 512.5Z" fill="#00ff00"/>
<path d="M517.8 529.7L524.3 519.2L511.3 519.2Z" fill="#00ff00"/>
<path d="M524.5 509.6L531.0 499.1L518.0 499.1Z" fill="#00ff00"/>
<path d="M532.9 514.7L539.4 504.2L526.4 504.2Z" fill="#00ff00"/>
<path d="M539.6 544.8L546.1 534.3L533.1 534.3Z" fill="#00ff00"/>
<path d="M546.3 549.8L552.8 539.3L539.8 539.3Z" fill="#00ff00"/>
<path d="M554.6 528.1L561.1 517.6L548.1 517.6Z" fill="#00ff00"/>
<path d="M561.8 532.9L568.3 522.4L555.3 522.4Z" fill="#00ff00"/>
<path d="M567.6 549.7L574.1 539.2L561.1 539.2Z" fill="#00ff00"/>
<path d="M574.3 530.4L580.8 519.9L567.8 519.9Z" fill="#00ff00"/>
<path d="M581.8 563.1L588.3 552.6L575.3 552.6Z" fill="#00ff00"/>
<path d="M588.5 535.5L595.0 525.0L582.0 525.0Z" fill="#00ff00"/>
<path d="M596.9 546.3L603.4 535.8L590.4 535.8Z" fill="#00ff00"/>
<path d="M604.4 543.0L610.9 532.5L597.9 532.5Z" fill="#00ff00"/>
<path d="M611.1 521.2L617.6 510.7L604.6 510.7Z" fill="#00ff00"/>
<path d="M617.8 534.6L624.3 524.1L611.3 524.1Z" fill="#00ff00"/>
<path d="M624.5 546.3L631.0 535.8L618.0 535.8Z" fill="#00ff00"/>
<path d="M632.1 522.9L638.6 512.4L625.6 512.4Z" fill="#00ff00"/>
<path d="M640.4 527.9L646.9 517.4L633.9 517.4Z" fill="#00ff00"/>
<path d="M645.4 551.4L651.9 540.9L638.9 540.9Z" fill="#00ff00"/>
<path d="M653.8 541.3L660.3 530.8L647.3 530.8Z" fill="#00ff00"/>
<path d="M660.5 571.4L667.0 560.9L654.0 560.9Z" fill="#00ff00"/>
<path d="M668.9 531.3L675.4 520.8L662.4 520.8Z" fill="#00ff00"/>
<path d="M675.6 543.0L682.1 532.5L669.1 532.5Z" fill="#00ff00"/>
<path d="M683.9 541.3L690.4 530.8L677.4 530.8Z" fill="#00ff00"/>
<path d="M690.6 549.7L697.1 539.2L684.1 539.2Z" fill="#00ff00"/>
<path d="M698.2 564.7L704.7 554.2L691.7 554.2Z" fill="#00ff00"/>
<path d="M704.9 564.7L711.4 554.2L698.4 554.2Z" fill="#00ff00"/>
<path d="M710.7 543.0L717.2 532.5L704.2 532.5Z" fill="#00ff00"/>
<path d="M717.4 541.3L723.9 530.8L710.9 530.8Z" fill="#00ff00"/>
<path d="M724.1 532.9L730.6 522.4L717.6 522.4Z" fill="#00ff00"/>
<path d="M731.6 556.4L738.1 545.9L725.1 545.9Z" fill="#00ff00"/>
<path d="M739.2 538.0L745.7 527.5L732.7 527.5Z" fill="#00ff00"/>
<path d="M747.5 530.4L754.0 519.9L741.0 519.9Z" fill="#00ff00"/>
<path d="M754.2 556.4L760.7 545.9L747.7 545.9Z" fill="#00ff00"/>
<path d="M760.9 556.4L767.4 545.9L754.4 545.9Z" fill="#00ff00"/>
<path d="M767.6 551.4L774.1 540.9L761.1 540.9Z" fill="#00ff00"/>
<path d="M775.1 563.1L781.6 552.6L768.6 552.6Z" fill="#00ff00"/>
<path d="M781.8 543.0L788.3 532.5L775.3 532.5Z" fill="#00ff00"/>
<path d="M789.4 541.3L795.9 530.8L782.9 530.8Z" fill="#00ff00"/>
<path d="M797.7 536.3L804.2 525.8L791.2 525.8Z" fill="#00ff00"/>
<path d="M804.4 544.7L810.9 534.2L797.9 534.2Z" fill="#00ff00"/>
<path d="M811.1 514.5L817.6 504.0L804.6 504.0Z" fill="#00ff00"/>
<path d="M817.8 553.0L824.3 542.5L811.3 542.5Z" fill="#00ff00"/>
<path d="M824.5 543.0L831.0 532.5L818.0 532.5Z" fill="#00ff00"/>
<path d="M832.9 554.7L839.4 544.2L826.4 544.2Z" fill="#00ff00"/>
<path d="M839.6 527.9L846.1 517.4L833.1 517.4Z" fill="#00ff00"/>
<path d="M847.9 544.7L854.4 534.2L841.4 534.2Z" fill="#00ff00"/>
<path d="M855.5 558.1L862.0 547.6L849.0 547.6Z" fill="#00ff00"/>
<path d="M861.8 554.7L868.3 544.2L855.3 544.2Z" fill="#00ff00"/>
<path d="M868.5 569.8L875.0 559.3L862.0 559.3Z" fill="#00ff00"/>
<path d="M875.1 566.4L881.6 555.9L868.6 555.9Z" fill="#00ff00"/>
<path d="M882.7 541.3L889.2 530.8L876.2 530.8Z" fill="#00ff00"/>
<path d="M889.4 553.0L895.9 542.5L882.9 542.5Z" fill="#00ff00"/>
<path d="M896.9 569.8L903.4 559.3L890.4 559.3Z" fill="#00ff00"/>
<path d="M903.6 546.3L910.1 535.8L897.1 535.8Z" fill="#00ff00"/>
<path d="M912.0 535.5L918.5 525.0L905.5 525.0Z" fill="#00ff00"/>
<path d="M919.5 558.1L926.0 547.6L913.0 547.6Z" fill="#00ff00"/>
<path d="M927.0 536.3L933.5 525.8L920.5 525.8Z" fill="#00ff00"/>
<path d="M933.7 532.9L940.2 522.4L927.2 522.4Z" fill="#00ff00"/>
<path d="M940.4 538.0L946.9 527.5L933.9 527.5Z" fill="#00ff00"/>
<path d="M948.8 543.0L955.3 532.5L942.3 532.5Z" fill="#00ff00"/>
<path d="M956.3 554.7L962.8 544.2L949.8 544.2Z" fill="#00ff00"/>
<path d="M962.2 531.3L968.7 520.8L955.7 520.8Z" fill="#00ff00"/>
<path d="M970.5 558.1L977.0 547.6L964.0 547.6Z" fill="#00ff00"/>
<path d="M977.2 558.1L983.7 547.6L970.7 547.6Z" fill="#00ff00"/>
<path d="M983.9 539.6L990.4 529.1L977.4 529.1Z" fill="#00ff00"/>
<path d="M990.6 553.0L997.1 542.5L984.1 542.5Z" fill="#00ff00"/>
<path d="M997.3 514.5L1003.8 504.0L990.8 504.0Z" fill="#00ff00"/>
<path d="M1005.7 553.0L1012.2 542.5L999.2 542.5Z" fill="#00ff00"/>
<path d="M1013.2 521.2L1019.7 510.7L1006.7 510.7Z" fill="#00ff00"/>
<path d="M1019.9 546.3L1026.4 535.8L1013.4 535.8Z" fill="#00ff00"/>
<path d="M1029.1 524.6L1035.6 514.1L1022.6 514.1Z" fill="#00ff00"/>
<path d="M1035.0 524.6L1041.5 514.1L1028.5 514.1Z" fill="#00ff00"/>
<path d="M1042.5 543.0L1049.0 532.5L1036.0 532.5Z" fill="#00ff00"/>
<path d="M1049.2 546.3L1055.7 535.8L1042.7 535.8Z" fill="#00ff00"/>
<path d="M1055.9 543.0L1062.4 532.5L1049.4 532.5Z" fill="#00ff00"/>
<path d="M1060.9 531.3L1067.4 520.8L1054.4 520.8Z" fill="#00ff00"/>
<path d="M1069.3 525.4L1075.8 514.9L1062.8 514.9Z" fill="#00ff00"/>
<path d="M1077.7 549.7L1084.2 539.2L1071.2 539.2Z" fill="#00ff00"/>
<path d="M1084.4 530.4L1090.9 519.9L1077.9 519.9Z" fill="#00ff00"/>
<path d="M1092.7 531.3L1099.2 520.8L1086.2 520.8Z" fill="#00ff00"/>
<path d="M1100.3 532.9L1106.8 522.4L1093.8 522.4Z" fill="#00ff00"/>
<path d="M1106.9 522.9L1113.4 512.4L1100.4 512.4Z" fill="#00ff00"/>
<path d="M1114.5 536.3L1121.0 525.8L1108.0 525.8Z" fill="#00ff00"/>
<path d="M1121.2 541.3L1127.7 530.8L1114.7 530.8Z" fill="#00ff00"/>
<path d="M1128.7 549.7L1135.2 539.2L1122.2 539.2Z" fill="#00ff00"/>
<path d="M1135.4 549.7L1141.9 539.2L1128.9 539.2Z" fill="#00ff00"/>
<path d="M1141.3 507.8L1147.8 497.3L1134.8 497.3Z" fill="#00ff00"/>
<path d="M1149.6 556.4L1156.1 545.9L1143.1 545.9Z" fill="#00ff00"/>
<path d="M1156.3 539.6L1162.8 529.1L1149.8 529.1Z" fill="#00ff00"/>
<path d="M1165.1 541.3L1171.6 530.8L1158.6 530.8Z" fill="#00ff00"/>
<path d="M1173.5 544.7L1180.0 534.2L1167.0 534.2Z" fill="#00ff00"/>
<path d="M1180.2 548.0L1186.7 537.5L1173.7 537.5Z" fill="#00ff00"/>
<path d="M1185.2 551.4L1191.7 540.9L1178.7 540.9Z" fill="#00ff00"/>
<path d="M1191.9 526.3L1198.4 515.8L1185.4 515.8Z" fill="#00ff00"/>
<path d="M1198.6 544.7L1205.1 534.2L1192.1 534.2Z" fill="#00ff00"/>
<path d="M1206.1 546.3L1212.6 535.8L1199.6 535.8Z" fill="#00ff00"/>
<path d="M1213.6 527.9L1220.1 517.4L1207.1 517.4Z" fill="#00ff00"/>
<path d="M1221.2 517.9L1227.7 507.4L1214.7 507.4Z" fill="#00ff00"/>
<path d="M1228.7 536.3L1235.2 525.8L1222.2 525.8Z" fill="#00ff00"/>
<path d="M1235.4 544.7L1241.9 534.2L1228.9 534.2Z" fill="#00ff00"/>
<path d="M1242.1 553.0L1248.6 542.5L1235.6 542.5Z" fill="#00ff00"/>
<path d="M1248.8 527.9L1255.3 517.4L1242.3 517.4Z" fill="#00ff00"/>
<path d="M1257.2 529.6L1263.7 519.1L1250.7 519.1Z" fill="#00ff00"/>
<path d="M1263.8 558.1L1270.3 547.6L1257.3 547.6Z" fill="#00ff00"/>
<path d="M1270.5 558.1L1277.0 547.6L1264.0 547.6Z" fill="#00ff00"/>
<path d="M1278.9 563.1L1285.4 552.6L1272.4 552.6Z" fill="#00ff00"/>
<path d="M1286.4 553.0L1292.9 542.5L1279.9 542.5Z" fill="#00ff00"/>
<path d="M1292.3 527.9L1298.8 517.4L1285.8 517.4Z" fill="#00ff00"/>
<path d="M1299.0 536.3L1305.5 525.8L1292.5 525.8Z" fill="#00ff00"/>
<path d="M1305.7 546.3L1312.2 535.8L1299.2 535.8Z" fill="#00ff00"/>
<path d="M1313.2 522.9L1319.7 512.4L1306.7 512.4Z" fill="#00ff00"/>
<path d="M1319.9 538.0L1326.4 527.5L1313.4 527.5Z" fill="#00ff00"/>
<path d="M1328.3 561.4L1334.8 550.9L1321.8 550.9Z" fill="#00ff00"/>
<path d="M1335.0 539.6L1341.5 529.1L1328.5 529.1Z" fill="#00ff00"/>
<path d="M1340.8 527.9L1347.3 517.4L1334.3 517.4Z" fill="#00ff00"/>
<path d="M1348.4 519.6L1354.9 509.1L1341.9 509.1Z" fill="#00ff00"/>
<path d="M1355.9 509.5L1362.4 499.0L1349.4 499.0Z" fill="#00ff00"/>
<path d="M1364.3 517.9L1370.8 507.4L1357.8 507.4Z" fill="#00ff00"/>
<path d="M1371.0 549.7L1377.5 539.2L1364.5 539.2Z" fill="#00ff00"/>
<path d="M1377.7 539.6L1384.2 529.1L1371.2 529.1Z" fill="#00ff00"/>
<path d="M1384.4 548.0L1390.9 537.5L1377.9 537.5Z" fill="#00ff00"/>
<path d="M1391.0 536.3L1397.5 525.8L1384.5 525.8Z" fill="#00ff00"/>
<path d="M1399.4 512.9L1405.9 502.4L1392.9 502.4Z" fill="#00ff00"/>
<path d="M1406.1 551.4L1412.6 540.9L1399.6 540.9Z" fill="#00ff00"/>
<path d="M1414.5 553.0L1421.0 542.5L1408.0 542.5Z" fill="#00ff00"/>
<path d="M1421.2 546.3L1427.7 535.8L1414.7 535.8Z" fill="#00ff00"/>
<path d="M1427.9 559.7L1434.4 549.2L1421.4 549.2Z" fill="#00ff00"/>
<path d="M1434.6 548.0L1441.1 537.5L1428.1 537.5Z" fill="#00ff00"/>
<path d="M1442.9 522.9L1449.4 512.4L1436.4 512.4Z" fill="#00ff00"/>
<path d="M1449.6 517.9L1456.1 507.4L1443.1 507.4Z" fill="#00ff00"/>
<path d="M1457.2 538.0L1463.7 527.5L1450.7 527.5Z" fill="#00ff00"/>
<path d="M1465.1 539.7L1471.6 529.2L1458.6 529.2Z" fill="#00ff00"/>
<path d="M1471.8 546.4L1478.3 535.9L1465.3 535.9Z" fill="#00ff00"/>
<path d="M1478.5 497.9L1485.0 487.4L1472.0 487.4Z" fill="#00ff00"/>
<path d="M1486.9 506.3L1493.4 495.8L1480.4 495.8Z" fill="#00ff00"/>
<path d="M1493.6 512.9L1500.1 502.4L1487.1 502.4Z" fill="#00ff00"/>
<path d="M1500.3 538.1L1506.8 527.6L1493.8 527.6Z" fill="#00ff00"/>
<path d="M1506.9 533.0L1513.4 522.5L1500.4 522.5Z" fill="#00ff00"/>
<path d="M1513.6 531.4L1520.1 520.9L1507.1 520.9Z" fill="#00ff00"/>
<path d="M1522.0 546.4L1528.5 535.9L1515.5 535.9Z" fill="#00ff00"/>
<path d="M1528.7 534.7L1535.2 524.2L1522.2 524.2Z" fill="#00ff00"/>
<path d="M1536.2 533.0L1542.7 522.5L1529.7 522.5Z" fill="#00ff00"/>
<path d="M1543.8 541.4L1550.3 530.9L1537.3 530.9Z" fill="#00ff00"/>
<path d="M1552.1 551.4L1558.6 540.9L1545.6 540.9Z" fill="#00ff00"/>
<path d="M1558.8 551.4L1565.3 540.9L1552.3 540.9Z" fill="#00ff00"/>
<path d="M1565.5 514.6L1572.0 504.1L1559.0 504.1Z" fill="#00ff00"/>
<path d="M1572.2 538.1L1578.7 527.6L1565.7 527.6Z" fill="#00ff00"/>
<path d="M1578.9 512.9L1585.4 502.4L1572.4 502.4Z" fill="#00ff00"/>
<path d="M1585.6 504.6L1592.1 494.1L1579.1 494.1Z" fill="#00ff00"/>
<path d="M1594.0 492.9L1600.5 482.4L1587.5 482.4Z" fill="#00ff00"/>
<path d="M1600.7 509.6L1607.2 499.1L1594.2 499.1Z" fill="#00ff00"/>
<path d="M1607.4 496.2L1613.9 485.7L1600.9 485.7Z" fill="#00ff00"/>
<path d="M1615.7 494.5L1622.2 484.0L1609.2 484.0Z" fill="#00ff00"/>
<path d="M1623.3 483.7L1629.8 473.2L1616.8 473.2Z" fill="#00ff00"/>
<path d="M1630.8 487.0L1637.3 476.5L1624.3 476.5Z" fill="#00ff00"/>
<path d="M1638.3 489.5L1644.8 479.0L1631.8 479.0Z" fill="#00ff00"/>
<path d="M1645.0 499.6L1651.5 489.1L1638.5 489.1Z" fill="#00ff00"/>
<path d="M1651.7 502.9L1658.2 492.4L1645.2 492.4Z" fill="#00ff00"/>
<path d="M1659.2 494.5L1665.7 484.0L1652.7 484.0Z" fill="#00ff00"/>
<path d="M1665.9 492.9L1672.4 482.4L1659.4 482.4Z" fill="#00ff00"/>
<path d="M1672.6 487.0L1679.1 476.5L1666.1 476.5Z" fill="#00ff00"/>
<path d="M1679.3 499.6L1685.8 489.1L1672.8 489.1Z" fill="#00ff00"/>
<path d="M1686.0 491.2L1692.5 480.7L1679.5 480.7Z" fill="#00ff00"/>
<path d="M1694.4 487.0L1700.9 476.5L1687.9 476.5Z" fill="#00ff00"/>
<path d="M1701.1 502.9L1707.6 492.4L1694.6 492.4Z" fill="#00ff00"/>
<path d="M1707.8 496.2L1714.3 485.7L1701.3 485.7Z" fill="#00ff00"/>
<path d="M1714.5 497.9L1721.0 487.4L1708.0 487.4Z" fill="#00ff00"/>
<path d="M1722.8 492.0L1729.3 481.5L1716.3 481.5Z" fill="#00ff00"/>
<path d="M1729.5 502.9L1736.0 492.4L1723.0 492.4Z" fill="#00ff00"/>
<path d="M1736.2 492.0L1742.7 481.5L1729.7 481.5Z" fill="#00ff00"/>
<path d="M1743.8 499.6L1750.3 489.1L1737.3 489.1Z" fill="#00ff00"/>
<path d="M1751.3 507.9L1757.8 497.4L1744.8 497.4Z" fill="#00ff00"/>
<path d="M1758.8 491.2L1765.3 480.7L1752.3 480.7Z" fill="#00ff00"/>
<path d="M1764.4 484.5L1770.9 474.0L1757.9 474.0Z" fill="#00ff00"/>
<path d="M1770.2 483.7L1776.7 473.2L1763.7 473.2Z" fill="#00ff00"/>
<path d="M1774.4 485.3L1780.9 474.8L1767.9 474.8Z" fill="#00ff00"/>
<path d="M1780.3 483.7L1786.8 473.2L1773.8 473.2Z" fill="#00ff00"/>
<path d="M1784.4 486.2L1790.9 475.7L1777.9 475.7Z" fill="#00ff00"/>
<path d="M1788.6 487.0L1795.1 476.5L1782.1 476.5Z" fill="#00ff00"/>
<path d="M1793.6 489.5L1800.1 479.0L1787.1 479.0Z" fill="#00ff00"/>
<path d="M1798.7 487.8L1805.2 477.3L1792.2 477.3Z" fill="#00ff00"/>
<path d="M1802.8 488.7L1809.3 478.2L1796.3 478.2Z" fill="#00ff00"/>
<path d="M1807.0 492.9L1813.5 482.4L1800.5 482.4Z" fill="#00ff00"/>
<path d="M1811.2 494.5L1817.7 484.0L1804.7 484.0Z" fill="#00ff00"/>
<path d="M1815.4 498.7L1821.9 488.2L1808.9 488.2Z" fill="#00ff00"/>
<path d="M1819.6 497.0L1826.1 486.5L1813.1 486.5Z" fill="#00ff00"/>
<path d="M1823.8 497.9L1830.3 487.4L1817.3 487.4Z" fill="#00ff00"/>
<path d="M1827.9 494.5L1834.4 484.0L1821.4 484.0Z" fill="#00ff00"/>
<path d="M1832.1 492.9L1838.6 482.4L1825.6 482.4Z" fill="#00ff00"/>
<path d="M1836.3 488.7L1842.8 478.2L1829.8 478.2Z" fill="#00ff00"/>
<path d="M1840.5 485.3L1847.0 474.8L1834.0 474.8Z" fill="#00ff00"/>
<path d="M1844.7 482.8L1851.2 472.3L1838.2 472.3Z" fill="#00ff00"/>
<path d="M1848.9 483.7L1855.4 473.2L1842.4 473.2Z" fill="#00ff00"/>
<path d="M1853.9 486.2L1860.4 475.7L1847.4 475.7Z" fill="#00ff00"/>
<path d="M1857.2 494.5L1863.7 484.0L1850.7 484.0Z" fill="#00ff00"/>
<path d="M1858.9 502.9L1865.4 492.4L1852.4 492.4Z" fill="#00ff00"/>
<path d="M245.9 868.7 L253.4 862.0 L260.1 858.7 L266.8 865.4 L273.5 875.4 L281.8 867.0 L288.5 852.0 L295.2 846.9 L301.9 865.4 L310.3 872.1 L317.0 857.0 L324.5 873.7 L331.2 860.3 L338.7 855.3 L345.4 875.4 L353.8 863.7 L360.5 855.3 L367.2 858.7 L373.9 855.3 L380.6 870.4 L387.3 865.4 L395.6 862.0 L403.2 862.0 L410.7 852.0 L417.4 860.3 L424.1 865.4 L431.6 895.5 L439.2 863.7 L445.9 800.1 L451.7 852.0 L460.1 872.9 L466.8 891.3 L474.3 905.5 L481.8 936.5 L489.4 958.2 L496.9 943.2 L504.4 950.7 L511.1 969.1 L518.7 957.4 L526.2 972.5 L532.9 974.1 L539.6 925.6 L547.1 954.9 L554.6 975.0 L556.7 977.0 L561.8 977.0 L568.5 950.2 L575.1 1002.1 L583.5 931.0 L589.4 997.1 L596.9 967.8 L603.6 1000.4 L611.1 1009.6 L617.8 968.6 L625.4 950.2 L632.9 962.8 L639.6 990.4 L646.3 956.9 L654.6 1008.8 L661.3 957.7 L668.9 1007.1 L675.6 1021.3 L682.3 991.2 L689.8 974.5 L697.3 976.2 L704.9 967.8 L710.7 983.7 L718.2 984.5 L725.8 1009.6 L733.3 988.7 L740.0 1003.8 L747.5 1024.7 L754.2 972.8 L761.8 1004.6 L769.3 1000.4 L776.0 984.5 L783.5 974.5 L790.2 997.1 L797.7 987.9 L804.4 978.7 L812.0 1038.1 L819.5 983.7 L827.0 972.0 L833.7 977.0 L841.3 1009.6 L847.9 1009.6 L855.5 994.6 L861.8 990.4 L869.3 973.6 L876.0 980.3 L882.7 1000.4 L890.2 980.3 L897.7 961.9 L904.4 988.7 L912.8 995.4 L920.3 977.0 L927.9 996.2 L934.6 996.2 L941.3 985.4 L948.8 985.4 L956.3 987.0 L963.0 1012.1 L969.7 976.2 L977.2 954.4 L983.9 982.0 L991.5 980.3 L999.0 1011.3 L1005.7 977.8 L1013.2 997.1 L1019.9 974.5 L1027.4 1002.1 L1034.1 1007.9 L1040.8 982.0 L1048.4 982.0 L1055.1 1002.1 L1062.6 995.4 L1071.0 1025.5 L1077.7 988.7 L1084.4 1005.4 L1091.0 1000.4 L1098.6 988.7 L1106.1 997.9 L1113.6 968.6 L1121.2 983.7 L1127.9 961.9 L1135.4 965.3 L1142.1 1013.8 L1148.8 969.5 L1156.3 986.2 L1164.3 975.3 L1171.0 972.0 L1178.5 990.4 L1185.2 970.3 L1191.9 1005.4 L1198.6 977.0 L1206.9 961.1 L1213.6 1010.5 L1221.2 1007.1 L1227.9 1011.3 L1235.4 982.8 L1242.9 983.7 L1249.6 1002.1 L1257.2 1013.8 L1263.8 956.1 L1271.4 987.9 L1278.1 941.8 L1285.6 980.3 L1292.3 1005.4 L1299.0 996.2 L1306.5 981.2 L1314.1 1004.6 L1321.6 1009.6 L1328.3 967.8 L1335.8 988.7 L1342.5 1006.3 L1349.2 1032.2 L1356.7 1008.8 L1364.3 998.7 L1371.8 967.8 L1378.5 982.0 L1386.0 974.5 L1393.6 984.5 L1400.3 1018.0 L1406.9 991.2 L1414.5 978.7 L1422.0 979.5 L1428.7 988.7 L1435.4 980.3 L1442.1 1009.6 L1448.8 1006.3 L1456.3 983.7 L1465.1 982.3 L1472.6 962.3 L1479.3 1039.2 L1486.0 1012.5 L1493.6 1007.4 L1501.1 972.3 L1508.6 983.2 L1515.3 980.7 L1522.8 969.8 L1530.4 957.2 L1537.1 951.4 L1543.8 975.6 L1551.3 965.6 L1558.8 926.3 L1565.5 959.7 L1572.2 941.3 L1579.7 981.5 L1587.3 972.3 L1594.8 970.6 L1601.5 927.9 L1609.0 907.9 L1615.7 887.8 L1623.3 882.8 L1630.0 875.2 L1637.5 871.9 L1645.0 861.0 L1651.7 857.7 L1659.2 864.4 L1666.8 868.5 L1673.5 872.7 L1681.0 858.5 L1687.7 865.2 L1694.4 875.2 L1701.1 856.0 L1707.8 863.5 L1715.3 859.3 L1722.8 867.7 L1729.5 855.1 L1736.2 865.2 L1743.8 856.8 L1751.3 852.6 L1758.0 867.7 L1761.8 870.2 L1766.9 873.6 L1771.9 872.7 L1776.9 873.6 L1781.9 874.4 L1786.9 868.5 L1791.1 871.9 L1795.3 872.7 L1800.3 870.2 L1805.4 867.7 L1810.4 864.4 L1815.4 860.2 L1820.4 861.0 L1824.6 861.8 L1829.6 865.2 L1834.6 867.7 L1838.8 870.2 L1843.8 875.2 L1848.0 875.2 L1852.2 871.9 L1855.6 870.2 L1858.9 860.2" fill="none" stroke="#ff0000" stroke-width="2.3" stroke-linejoin="round"/>
<path d="M245.9 863.4L251.4 868.7L245.9 874.0L240.4 868.7Z" fill="#ff0000"/>
<path d="M253.4 856.7L258.9 862.0L253.4 867.3L247.9 862.0Z" fill="#ff0000"/>
<path d="M260.1 853.4L265.6 858.7L260.1 864.0L254.6 858.7Z" fill="#ff0000"/>
<path d="M266.8 860.1L272.3 865.4L266.8 870.7L261.3 865.4Z" fill="#ff0000"/>
<path d="M273.5 870.1L279.0 875.4L273.5 880.7L268.0 875.4Z" fill="#ff0000"/>
<path d="M281.8 861.7L287.3 867.0L281.8 872.3L276.3 867.0Z" fill="#ff0000"/>
<path d="M288.5 846.7L294.0 852.0L288.5 857.3L283.0 852.0Z" fill="#ff0000"/>
<path d="M295.2 841.6L300.7 846.9L295.2 852.2L289.7 846.9Z" fill="#ff0000"/>
<path d="M301.9 860.1L307.4 865.4L301.9 870.7L296.4 865.4Z" fill="#ff0000"/>
<path d="M310.3 866.8L315.8 872.1L310.3 877.4L304.8 872.1Z" fill="#ff0000"/>
<path d="M317.0 851.7L322.5 857.0L317.0 862.3L311.5 857.0Z" fill="#ff0000"/>
<path d="M324.5 868.4L330.0 873.7L324.5 879.0L319.0 873.7Z" fill="#ff0000"/>
<path d="M331.2 855.0L336.7 860.3L331.2 865.6L325.7 860.3Z" fill="#ff0000"/>
<path d="M338.7 850.0L344.2 855.3L338.7 860.6L333.2 855.3Z" fill="#ff0000"/>
<path d="M345.4 870.1L350.9 875.4L345.4 880.7L339.9 875.4Z" fill="#ff0000"/>
<path d="M353.8 858.4L359.3 863.7L353.8 869.0L348.3 863.7Z" fill="#ff0000"/>
<path d="M360.5 850.0L366.0 855.3L360.5 860.6L355.0 855.3Z" fill="#ff0000"/>
<path d="M367.2 853.4L372.7 858.7L367.2 864.0L361.7 858.7Z" fill="#ff0000"/>
<path d="M373.9 850.0L379.4 855.3L373.9 860.6L368.4 855.3Z" fill="#ff0000"/>
<path d="M380.6 865.1L386.1 870.4L380.6 875.7L375.1 870.4Z" fill="#ff0000"/>
<path d="M387.3 860.1L392.8 865.4L387.3 870.7L381.8 865.4Z" fill="#ff0000"/>
<path d="M395.6 856.7L401.1 862.0L395.6 867.3L390.1 862.0Z" fill="#ff0000"/>
<path d="M403.2 856.7L408.7 862.0L403.2 867.3L397.7 862.0Z" fill="#ff0000"/>
<path d="M410.7 846.7L416.2 852.0L410.7 857.3L405.2 852.0Z" fill="#ff0000"/>
<path d="M417.4 855.0L422.9 860.3L417.4 865.6L411.9 860.3Z" fill="#ff0000"/>
<path d="M424.1 860.1L429.6 865.4L424.1 870.7L418.6 865.4Z" fill="#ff0000"/>
<path d="M431.6 890.2L437.1 895.5L431.6 900.8L426.1 895.5Z" fill="#ff0000"/>
<path d="M439.2 858.4L444.7 863.7L439.2 869.0L433.7 863.7Z" fill="#ff0000"/>
<path d="M445.9 794.8L451.4 800.1L445.9 805.4L440.4 800.1Z" fill="#ff0000"/>
<path d="M451.7 846.7L457.2 852.0L451.7 857.3L446.2 852.0Z" fill="#ff0000"/>
<path d="M460.1 867.6L465.6 872.9L460.1 878.2L454.6 872.9Z" fill="#ff0000"/>
<path d="M466.8 886.0L472.3 891.3L466.8 896.6L461.3 891.3Z" fill="#ff0000"/>
<path d="M474.3 900.2L479.8 905.5L474.3 910.8L468.8 905.5Z" fill="#ff0000"/>
<path d="M481.8 931.2L487.3 936.5L481.8 941.8L476.3 936.5Z" fill="#ff0000"/>
<path d="M489.4 952.9L494.9 958.2L489.4 963.5L483.9 958.2Z" fill="#ff0000"/>
<path d="M496.9 937.9L502.4 943.2L496.9 948.5L491.4 943.2Z" fill="#ff0000"/>
<path d="M504.4 945.4L509.9 950.7L504.4 956.0L498.9 950.7Z" fill="#ff0000"/>
<path d="M511.1 963.8L516.6 969.1L511.1 974.4L505.6 969.1Z" fill="#ff0000"/>
<path d="M518.7 952.1L524.2 957.4L518.7 962.7L513.2 957.4Z" fill="#ff0000"/>
<path d="M526.2 967.2L531.7 972.5L526.2 977.8L520.7 972.5Z" fill="#ff0000"/>
<path d="M532.9 968.8L538.4 974.1L532.9 979.4L527.4 974.1Z" fill="#ff0000"/>
<path d="M539.6 920.3L545.1 925.6L539.6 930.9L534.1 925.6Z" fill="#ff0000"/>
<path d="M547.1 949.6L552.6 954.9L547.1 960.2L541.6 954.9Z" fill="#ff0000"/>
<path d="M554.6 969.7L560.1 975.0L554.6 980.3L549.1 975.0Z" fill="#ff0000"/>
<path d="M556.7 971.7L562.2 977.0L556.7 982.3L551.2 977.0Z" fill="#ff0000"/>
<path d="M561.8 971.7L567.3 977.0L561.8 982.3L556.3 977.0Z" fill="#ff0000"/>
<path d="M568.5 944.9L574.0 950.2L568.5 955.5L563.0 950.2Z" fill="#ff0000"/>
<path d="M575.1 996.8L580.6 1002.1L575.1 1007.4L569.6 1002.1Z" fill="#ff0000"/>
<path d="M583.5 925.7L589.0 931.0L583.5 936.3L578.0 931.0Z" fill="#ff0000"/>
<path d="M589.4 991.8L594.9 997.1L589.4 1002.4L583.9 997.1Z" fill="#ff0000"/>
<path d="M596.9 962.5L602.4 967.8L596.9 973.1L591.4 967.8Z" fill="#ff0000"/>
<path d="M603.6 995.1L609.1 1000.4L603.6 1005.7L598.1 1000.4Z" fill="#ff0000"/>
<path d="M611.1 1004.3L616.6 1009.6L611.1 1014.9L605.6 1009.6Z" fill="#ff0000"/>
<path d="M617.8 963.3L623.3 968.6L617.8 973.9L612.3 968.6Z" fill="#ff0000"/>
<path d="M625.4 944.9L630.9 950.2L625.4 955.5L619.9 950.2Z" fill="#ff0000"/>
<path d="M632.9 957.5L638.4 962.8L632.9 968.1L627.4 962.8Z" fill="#ff0000"/>
<path d="M639.6 985.1L645.1 990.4L639.6 995.7L634.1 990.4Z" fill="#ff0000"/>
<path d="M646.3 951.6L651.8 956.9L646.3 962.2L640.8 956.9Z" fill="#ff0000"/>
<path d="M654.6 1003.5L660.1 1008.8L654.6 1014.1L649.1 1008.8Z" fill="#ff0000"/>
<path d="M661.3 952.4L666.8 957.7L661.3 963.0L655.8 957.7Z" fill="#ff0000"/>
<path d="M668.9 1001.8L674.4 1007.1L668.9 1012.4L663.4 1007.1Z" fill="#ff0000"/>
<path d="M675.6 1016.0L681.1 1021.3L675.6 1026.6L670.1 1021.3Z" fill="#ff0000"/>
<path d="M682.3 985.9L687.8 991.2L682.3 996.5L676.8 991.2Z" fill="#ff0000"/>
<path d="M689.8 969.2L695.3 974.5L689.8 979.8L684.3 974.5Z" fill="#ff0000"/>
<path d="M697.3 970.9L702.8 976.2L697.3 981.5L691.8 976.2Z" fill="#ff0000"/>
<path d="M704.9 962.5L710.4 967.8L704.9 973.1L699.4 967.8Z" fill="#ff0000"/>
<path d="M710.7 978.4L716.2 983.7L710.7 989.0L705.2 983.7Z" fill="#ff0000"/>
<path d="M718.2 979.2L723.7 984.5L718.2 989.8L712.7 984.5Z" fill="#ff0000"/>
<path d="M725.8 1004.3L731.3 1009.6L725.8 1014.9L720.3 1009.6Z" fill="#ff0000"/>
<path d="M733.3 983.4L738.8 988.7L733.3 994.0L727.8 988.7Z" fill="#ff0000"/>
<path d="M740.0 998.5L745.5 1003.8L740.0 1009.1L734.5 1003.8Z" fill="#ff0000"/>
<path d="M747.5 1019.4L753.0 1024.7L747.5 1030.0L742.0 1024.7Z" fill="#ff0000"/>
<path d="M754.2 967.5L759.7 972.8L754.2 978.1L748.7 972.8Z" fill="#ff0000"/>
<path d="M761.8 999.3L767.3 1004.6L761.8 1009.9L756.3 1004.6Z" fill="#ff0000"/>
<path d="M769.3 995.1L774.8 1000.4L769.3 1005.7L763.8 1000.4Z" fill="#ff0000"/>
<path d="M776.0 979.2L781.5 984.5L776.0 989.8L770.5 984.5Z" fill="#ff0000"/>
<path d="M783.5 969.2L789.0 974.5L783.5 979.8L778.0 974.5Z" fill="#ff0000"/>
<path d="M790.2 991.8L795.7 997.1L790.2 1002.4L784.7 997.1Z" fill="#ff0000"/>
<path d="M797.7 982.6L803.2 987.9L797.7 993.2L792.2 987.9Z" fill="#ff0000"/>
<path d="M804.4 973.4L809.9 978.7L804.4 984.0L798.9 978.7Z" fill="#ff0000"/>
<path d="M812.0 1032.8L817.5 1038.1L812.0 1043.4L806.5 1038.1Z" fill="#ff0000"/>
<path d="M819.5 978.4L825.0 983.7L819.5 989.0L814.0 983.7Z" fill="#ff0000"/>
<path d="M827.0 966.7L832.5 972.0L827.0 977.3L821.5 972.0Z" fill="#ff0000"/>
<path d="M833.7 971.7L839.2 977.0L833.7 982.3L828.2 977.0Z" fill="#ff0000"/>
<path d="M841.3 1004.3L846.8 1009.6L841.3 1014.9L835.8 1009.6Z" fill="#ff0000"/>
<path d="M847.9 1004.3L853.4 1009.6L847.9 1014.9L842.4 1009.6Z" fill="#ff0000"/>
<path d="M855.5 989.3L861.0 994.6L855.5 999.9L850.0 994.6Z" fill="#ff0000"/>
<path d="M861.8 985.1L867.3 990.4L861.8 995.7L856.3 990.4Z" fill="#ff0000"/>
<path d="M869.3 968.3L874.8 973.6L869.3 978.9L863.8 973.6Z" fill="#ff0000"/>
<path d="M876.0 975.0L881.5 980.3L876.0 985.6L870.5 980.3Z" fill="#ff0000"/>
<path d="M882.7 995.1L888.2 1000.4L882.7 1005.7L877.2 1000.4Z" fill="#ff0000"/>
<path d="M890.2 975.0L895.7 980.3L890.2 985.6L884.7 980.3Z" fill="#ff0000"/>
<path d="M897.7 956.6L903.2 961.9L897.7 967.2L892.2 961.9Z" fill="#ff0000"/>
<path d="M904.4 983.4L909.9 988.7L904.4 994.0L898.9 988.7Z" fill="#ff0000"/>
<path d="M912.8 990.1L918.3 995.4L912.8 1000.7L907.3 995.4Z" fill="#ff0000"/>
<path d="M920.3 971.7L925.8 977.0L920.3 982.3L914.8 977.0Z" fill="#ff0000"/>
<path d="M927.9 990.9L933.4 996.2L927.9 1001.5L922.4 996.2Z" fill="#ff0000"/>
<path d="M934.6 990.9L940.1 996.2L934.6 1001.5L929.1 996.2Z" fill="#ff0000"/>
<path d="M941.3 980.1L946.8 985.4L941.3 990.7L935.8 985.4Z" fill="#ff0000"/>
<path d="M948.8 980.1L954.3 985.4L948.8 990.7L943.3 985.4Z" fill="#ff0000"/>
<path d="M956.3 981.7L961.8 987.0L956.3 992.3L950.8 987.0Z" fill="#ff0000"/>
<path d="M963.0 1006.8L968.5 1012.1L963.0 1017.4L957.5 1012.1Z" fill="#ff0000"/>
<path d="M969.7 970.9L975.2 976.2L969.7 981.5L964.2 976.2Z" fill="#ff0000"/>
<path d="M977.2 949.1L982.7 954.4L977.2 959.7L971.7 954.4Z" fill="#ff0000"/>
<path d="M983.9 976.7L989.4 982.0L983.9 987.3L978.4 982.0Z" fill="#ff0000"/>
<path d="M991.5 975.0L997.0 980.3L991.5 985.6L986.0 980.3Z" fill="#ff0000"/>
<path d="M999.0 1006.0L1004.5 1011.3L999.0 1016.6L993.5 1011.3Z" fill="#ff0000"/>
<path d="M1005.7 972.5L1011.2 977.8L1005.7 983.1L1000.2 977.8Z" fill="#ff0000"/>
<path d="M1013.2 991.8L1018.7 997.1L1013.2 1002.4L1007.7 997.1Z" fill="#ff0000"/>
<path d="M1019.9 969.2L1025.4 974.5L1019.9 979.8L1014.4 974.5Z" fill="#ff0000"/>
<path d="M1027.4 996.8L1032.9 1002.1L1027.4 1007.4L1021.9 1002.1Z" fill="#ff0000"/>
<path d="M1034.1 1002.6L1039.6 1007.9L1034.1 1013.2L1028.6 1007.9Z" fill="#ff0000"/>
<path d="M1040.8 976.7L1046.3 982.0L1040.8 987.3L1035.3 982.0Z" fill="#ff0000"/>
<path d="M1048.4 976.7L1053.9 982.0L1048.4 987.3L1042.9 982.0Z" fill="#ff0000"/>
<path d="M1055.1 996.8L1060.6 1002.1L1055.1 1007.4L1049.6 1002.1Z" fill="#ff0000"/>
<path d="M1062.6 990.1L1068.1 995.4L1062.6 1000.7L1057.1 995.4Z" fill="#ff0000"/>
<path d="M1071.0 1020.2L1076.5 1025.5L1071.0 1030.8L1065.5 1025.5Z" fill="#ff0000"/>
<path d="M1077.7 983.4L1083.2 988.7L1077.7 994.0L1072.2 988.7Z" fill="#ff0000"/>
<path d="M1084.4 1000.1L1089.9 1005.4L1084.4 1010.7L1078.9 1005.4Z" fill="#ff0000"/>
<path d="M1091.0 995.1L1096.5 1000.4L1091.0 1005.7L1085.5 1000.4Z" fill="#ff0000"/>
<path d="M1098.6 983.4L1104.1 988.7L1098.6 994.0L1093.1 988.7Z" fill="#ff0000"/>
<path d="M1106.1 992.6L1111.6 997.9L1106.1 1003.2L1100.6 997.9Z" fill="#ff0000"/>
<path d="M1113.6 963.3L1119.1 968.6L1113.6 973.9L1108.1 968.6Z" fill="#ff0000"/>
<path d="M1121.2 978.4L1126.7 983.7L1121.2 989.0L1115.7 983.7Z" fill="#ff0000"/>
<path d="M1127.9 956.6L1133.4 961.9L1127.9 967.2L1122.4 961.9Z" fill="#ff0000"/>
<path d="M1135.4 960.0L1140.9 965.3L1135.4 970.6L1129.9 965.3Z" fill="#ff0000"/>
<path d="M1142.1 1008.5L1147.6 1013.8L1142.1 1019.1L1136.6 1013.8Z" fill="#ff0000"/>
<path d="M1148.8 964.2L1154.3 969.5L1148.8 974.8L1143.3 969.5Z" fill="#ff0000"/>
<path d="M1156.3 980.9L1161.8 986.2L1156.3 991.5L1150.8 986.2Z" fill="#ff0000"/>
<path d="M1164.3 970.0L1169.8 975.3L1164.3 980.6L1158.8 975.3Z" fill="#ff0000"/>
<path d="M1171.0 966.7L1176.5 972.0L1171.0 977.3L1165.5 972.0Z" fill="#ff0000"/>
<path d="M1178.5 985.1L1184.0 990.4L1178.5 995.7L1173.0 990.4Z" fill="#ff0000"/>
<path d="M1185.2 965.0L1190.7 970.3L1185.2 975.6L1179.7 970.3Z" fill="#ff0000"/>
<path d="M1191.9 1000.1L1197.4 1005.4L1191.9 1010.7L1186.4 1005.4Z" fill="#ff0000"/>
<path d="M1198.6 971.7L1204.1 977.0L1198.6 982.3L1193.1 977.0Z" fill="#ff0000"/>
<path d="M1206.9 955.8L1212.4 961.1L1206.9 966.4L1201.4 961.1Z" fill="#ff0000"/>
<path d="M1213.6 1005.2L1219.1 1010.5L1213.6 1015.8L1208.1 1010.5Z" fill="#ff0000"/>
<path d="M1221.2 1001.8L1226.7 1007.1L1221.2 1012.4L1215.7 1007.1Z" fill="#ff0000"/>
<path d="M1227.9 1006.0L1233.4 1011.3L1227.9 1016.6L1222.4 1011.3Z" fill="#ff0000"/>
<path d="M1235.4 977.5L1240.9 982.8L1235.4 988.1L1229.9 982.8Z" fill="#ff0000"/>
<path d="M1242.9 978.4L1248.4 983.7L1242.9 989.0L1237.4 983.7Z" fill="#ff0000"/>
<path d="M1249.6 996.8L1255.1 1002.1L1249.6 1007.4L1244.1 1002.1Z" fill="#ff0000"/>
<path d="M1257.2 1008.5L1262.7 1013.8L1257.2 1019.1L1251.7 1013.8Z" fill="#ff0000"/>
<path d="M1263.8 950.8L1269.3 956.1L1263.8 961.4L1258.3 956.1Z" fill="#ff0000"/>
<path d="M1271.4 982.6L1276.9 987.9L1271.4 993.2L1265.9 987.9Z" fill="#ff0000"/>
<path d="M1278.1 936.5L1283.6 941.8L1278.1 947.1L1272.6 941.8Z" fill="#ff0000"/>
<path d="M1285.6 975.0L1291.1 980.3L1285.6 985.6L1280.1 980.3Z" fill="#ff0000"/>
<path d="M1292.3 1000.1L1297.8 1005.4L1292.3 1010.7L1286.8 1005.4Z" fill="#ff0000"/>
<path d="M1299.0 990.9L1304.5 996.2L1299.0 1001.5L1293.5 996.2Z" fill="#ff0000"/>
<path d="M1306.5 975.9L1312.0 981.2L1306.5 986.5L1301.0 981.2Z" fill="#ff0000"/>
<path d="M1314.1 999.3L1319.6 1004.6L1314.1 1009.9L1308.6 1004.6Z" fill="#ff0000"/>
<path d="M1321.6 1004.3L1327.1 1009.6L1321.6 1014.9L1316.1 1009.6Z" fill="#ff0000"/>
<path d="M1328.3 962.5L1333.8 967.8L1328.3 973.1L1322.8 967.8Z" fill="#ff0000"/>
<path d="M1335.8 983.4L1341.3 988.7L1335.8 994.0L1330.3 988.7Z" fill="#ff0000"/>
<path d="M1342.5 1001.0L1348.0 1006.3L1342.5 1011.6L1337.0 1006.3Z" fill="#ff0000"/>
<path d="M1349.2 1026.9L1354.7 1032.2L1349.2 1037.5L1343.7 1032.2Z" fill="#ff0000"/>
<path d="M1356.7 1003.5L1362.2 1008.8L1356.7 1014.1L1351.2 1008.8Z" fill="#ff0000"/>
<path d="M1364.3 993.4L1369.8 998.7L1364.3 1004.0L1358.8 998.7Z" fill="#ff0000"/>
<path d="M1371.8 962.5L1377.3 967.8L1371.8 973.1L1366.3 967.8Z" fill="#ff0000"/>
<path d="M1378.5 976.7L1384.0 982.0L1378.5 987.3L1373.0 982.0Z" fill="#ff0000"/>
<path d="M1386.0 969.2L1391.5 974.5L1386.0 979.8L1380.5 974.5Z" fill="#ff0000"/>
<path d="M1393.6 979.2L1399.1 984.5L1393.6 989.8L1388.1 984.5Z" fill="#ff0000"/>
<path d="M1400.3 1012.7L1405.8 1018.0L1400.3 1023.3L1394.8 1018.0Z" fill="#ff0000"/>
<path d="M1406.9 985.9L1412.4 991.2L1406.9 996.5L1401.4 991.2Z" fill="#ff0000"/>
<path d="M1414.5 973.4L1420.0 978.7L1414.5 984.0L1409.0 978.7Z" fill="#ff0000"/>
<path d="M1422.0 974.2L1427.5 979.5L1422.0 984.8L1416.5 979.5Z" fill="#ff0000"/>
<path d="M1428.7 983.4L1434.2 988.7L1428.7 994.0L1423.2 988.7Z" fill="#ff0000"/>
<path d="M1435.4 975.0L1440.9 980.3L1435.4 985.6L1429.9 980.3Z" fill="#ff0000"/>
<path d="M1442.1 1004.3L1447.6 1009.6L1442.1 1014.9L1436.6 1009.6Z" fill="#ff0000"/>
<path d="M1448.8 1001.0L1454.3 1006.3L1448.8 1011.6L1443.3 1006.3Z" fill="#ff0000"/>
<path d="M1456.3 978.4L1461.8 983.7L1456.3 989.0L1450.8 983.7Z" fill="#ff0000"/>
<path d="M1465.1 977.0L1470.6 982.3L1465.1 987.6L1459.6 982.3Z" fill="#ff0000"/>
<path d="M1472.6 957.0L1478.1 962.3L1472.6 967.6L1467.1 962.3Z" fill="#ff0000"/>
<path d="M1479.3 1033.9L1484.8 1039.2L1479.3 1044.5L1473.8 1039.2Z" fill="#ff0000"/>
<path d="M1486.0 1007.2L1491.5 1012.5L1486.0 1017.8L1480.5 1012.5Z" fill="#ff0000"/>
<path d="M1493.6 1002.1L1499.1 1007.4L1493.6 1012.7L1488.1 1007.4Z" fill="#ff0000"/>
<path d="M1501.1 967.0L1506.6 972.3L1501.1 977.6L1495.6 972.3Z" fill="#ff0000"/>
<path d="M1508.6 977.9L1514.1 983.2L1508.6 988.5L1503.1 983.2Z" fill="#ff0000"/>
<path d="M1515.3 975.4L1520.8 980.7L1515.3 986.0L1509.8 980.7Z" fill="#ff0000"/>
<path d="M1522.8 964.5L1528.3 969.8L1522.8 975.1L1517.3 969.8Z" fill="#ff0000"/>
<path d="M1530.4 951.9L1535.9 957.2L1530.4 962.5L1524.9 957.2Z" fill="#ff0000"/>
<path d="M1537.1 946.1L1542.6 951.4L1537.1 956.7L1531.6 951.4Z" fill="#ff0000"/>
<path d="M1543.8 970.3L1549.3 975.6L1543.8 980.9L1538.3 975.6Z" fill="#ff0000"/>
<path d="M1551.3 960.3L1556.8 965.6L1551.3 970.9L1545.8 965.6Z" fill="#ff0000"/>
<path d="M1558.8 921.0L1564.3 926.3L1558.8 931.6L1553.3 926.3Z" fill="#ff0000"/>
<path d="M1565.5 954.4L1571.0 959.7L1565.5 965.0L1560.0 959.7Z" fill="#ff0000"/>
<path d="M1572.2 936.0L1577.7 941.3L1572.2 946.6L1566.7 941.3Z" fill="#ff0000"/>
<path d="M1579.7 976.2L1585.2 981.5L1579.7 986.8L1574.2 981.5Z" fill="#ff0000"/>
<path d="M1587.3 967.0L1592.8 972.3L1587.3 977.6L1581.8 972.3Z" fill="#ff0000"/>
<path d="M1594.8 965.3L1600.3 970.6L1594.8 975.9L1589.3 970.6Z" fill="#ff0000"/>
<path d="M1601.5 922.6L1607.0 927.9L1601.5 933.2L1596.0 927.9Z" fill="#ff0000"/>
<path d="M1609.0 902.6L1614.5 907.9L1609.0 913.2L1603.5 907.9Z" fill="#ff0000"/>
<path d="M1615.7 882.5L1621.2 887.8L1615.7 893.1L1610.2 887.8Z" fill="#ff0000"/>
<path d="M1623.3 877.5L1628.8 882.8L1623.3 888.1L1617.8 882.8Z" fill="#ff0000"/>
<path d="M1630.0 869.9L1635.5 875.2L1630.0 880.5L1624.5 875.2Z" fill="#ff0000"/>
<path d="M1637.5 866.6L1643.0 871.9L1637.5 877.2L1632.0 871.9Z" fill="#ff0000"/>
<path d="M1645.0 855.7L1650.5 861.0L1645.0 866.3L1639.5 861.0Z" fill="#ff0000"/>
<path d="M1651.7 852.4L1657.2 857.7L1651.7 863.0L1646.2 857.7Z" fill="#ff0000"/>
<path d="M1659.2 859.1L1664.7 864.4L1659.2 869.7L1653.7 864.4Z" fill="#ff0000"/>
<path d="M1666.8 863.2L1672.3 868.5L1666.8 873.8L1661.3 868.5Z" fill="#ff0000"/>
<path d="M1673.5 867.4L1679.0 872.7L1673.5 878.0L1668.0 872.7Z" fill="#ff0000"/>
<path d="M1681.0 853.2L1686.5 858.5L1681.0 863.8L1675.5 858.5Z" fill="#ff0000"/>
<path d="M1687.7 859.9L1693.2 865.2L1687.7 870.5L1682.2 865.2Z" fill="#ff0000"/>
<path d="M1694.4 869.9L1699.9 875.2L1694.4 880.5L1688.9 875.2Z" fill="#ff0000"/>
<path d="M1701.1 850.7L1706.6 856.0L1701.1 861.3L1695.6 856.0Z" fill="#ff0000"/>
<path d="M1707.8 858.2L1713.3 863.5L1707.8 868.8L1702.3 863.5Z" fill="#ff0000"/>
<path d="M1715.3 854.0L1720.8 859.3L1715.3 864.6L1709.8 859.3Z" fill="#ff0000"/>
<path d="M1722.8 862.4L1728.3 867.7L1722.8 873.0L1717.3 867.7Z" fill="#ff0000"/>
<path d="M1729.5 849.8L1735.0 855.1L1729.5 860.4L1724.0 855.1Z" fill="#ff0000"/>
<path d="M1736.2 859.9L1741.7 865.2L1736.2 870.5L1730.7 865.2Z" fill="#ff0000"/>
<path d="M1743.8 851.5L1749.3 856.8L1743.8 862.1L1738.3 856.8Z" fill="#ff0000"/>
<path d="M1751.3 847.3L1756.8 852.6L1751.3 857.9L1745.8 852.6Z" fill="#ff0000"/>
<path d="M1758.0 862.4L1763.5 867.7L1758.0 873.0L1752.5 867.7Z" fill="#ff0000"/>
<path d="M1761.8 864.9L1767.3 870.2L1761.8 875.5L1756.3 870.2Z" fill="#ff0000"/>
<path d="M1766.9 868.3L1772.4 873.6L1766.9 878.9L1761.4 873.6Z" fill="#ff0000"/>
<path d="M1771.9 867.4L1777.4 872.7L1771.9 878.0L1766.4 872.7Z" fill="#ff0000"/>
<path d="M1776.9 868.3L1782.4 873.6L1776.9 878.9L1771.4 873.6Z" fill="#ff0000"/>
<path d="M1781.9 869.1L1787.4 874.4L1781.9 879.7L1776.4 874.4Z" fill="#ff0000"/>
<path d="M1786.9 863.2L1792.4 868.5L1786.9 873.8L1781.4 868.5Z" fill="#ff0000"/>
<path d="M1791.1 866.6L1796.6 871.9L1791.1 877.2L1785.6 871.9Z" fill="#ff0000"/>
<path d="M1795.3 867.4L1800.8 872.7L1795.3 878.0L1789.8 872.7Z" fill="#ff0000"/>
<path d="M1800.3 864.9L1805.8 870.2L1800.3 875.5L1794.8 870.2Z" fill="#ff0000"/>
<path d="M1805.4 862.4L1810.9 867.7L1805.4 873.0L1799.9 867.7Z" fill="#ff0000"/>
<path d="M1810.4 859.1L1815.9 864.4L1810.4 869.7L1804.9 864.4Z" fill="#ff0000"/>
<path d="M1815.4 854.9L1820.9 860.2L1815.4 865.5L1809.9 860.2Z" fill="#ff0000"/>
<path d="M1820.4 855.7L1825.9 861.0L1820.4 866.3L1814.9 861.0Z" fill="#ff0000"/>
<path d="M1824.6 856.5L1830.1 861.8L1824.6 867.1L1819.1 861.8Z" fill="#ff0000"/>
<path d="M1829.6 859.9L1835.1 865.2L1829.6 870.5L1824.1 865.2Z" fill="#ff0000"/>
<path d="M1834.6 862.4L1840.1 867.7L1834.6 873.0L1829.1 867.7Z" fill="#ff0000"/>
<path d="M1838.8 864.9L1844.3 870.2L1838.8 875.5L1833.3 870.2Z" fill="#ff0000"/>
<path d="M1843.8 869.9L1849.3 875.2L1843.8 880.5L1838.3 875.2Z" fill="#ff0000"/>
<path d="M1848.0 869.9L1853.5 875.2L1848.0 880.5L1842.5 875.2Z" fill="#ff0000"/>
<path d="M1852.2 866.6L1857.7 871.9L1852.2 877.2L1846.7 871.9Z" fill="#ff0000"/>
<path d="M1855.6 864.9L1861.1 870.2L1855.6 875.5L1850.1 870.2Z" fill="#ff0000"/>
<path d="M1858.9 854.9L1864.4 860.2L1858.9 865.5L1853.4 860.2Z" fill="#ff0000"/>
</g>
<line x1="453.5" y1="423" x2="453.5" y2="1294" stroke="#000" stroke-width="7.5" stroke-dasharray="31.5 29.6"/>
<line x1="1630" y1="424" x2="1630" y2="1294" stroke="#000" stroke-width="5" stroke-dasharray="31 30"/>
<rect x="242" y="51.5" width="10" height="1247.5" fill="#000"/>
<rect x="242" y="57" width="1629" height="5" fill="#000"/>
<rect x="1866" y="57" width="5" height="1242" fill="#000"/>
<rect x="242" y="1294.2" width="1629" height="4.8" fill="#000"/>
<rect x="219" y="1294.1" width="25" height="5" fill="#000"/>
<text x="202.5" y="1309.6" class="tl" text-anchor="end">0</text>
<rect x="231" y="1232.0" width="13" height="5" fill="#000"/>
<rect x="219" y="1169.8" width="25" height="5" fill="#000"/>
<text x="202.5" y="1185.3" class="tl" text-anchor="end" textLength="54.2" lengthAdjust="spacingAndGlyphs">10</text>
<rect x="231" y="1107.7" width="13" height="5" fill="#000"/>
<rect x="219" y="1045.6" width="25" height="5" fill="#000"/>
<text x="202.5" y="1061.1" class="tl" text-anchor="end" textLength="54.2" lengthAdjust="spacingAndGlyphs">20</text>
<rect x="231" y="983.4" width="13" height="5" fill="#000"/>
<rect x="219" y="921.3" width="25" height="5" fill="#000"/>
<text x="202.5" y="936.8" class="tl" text-anchor="end" textLength="54.2" lengthAdjust="spacingAndGlyphs">30</text>
<rect x="231" y="859.2" width="13" height="5" fill="#000"/>
<rect x="219" y="797.0" width="25" height="5" fill="#000"/>
<text x="202.5" y="812.5" class="tl" text-anchor="end" textLength="54.2" lengthAdjust="spacingAndGlyphs">40</text>
<rect x="231" y="734.9" width="13" height="5" fill="#000"/>
<rect x="219" y="672.7" width="25" height="5" fill="#000"/>
<text x="202.5" y="688.2" class="tl" text-anchor="end" textLength="54.2" lengthAdjust="spacingAndGlyphs">50</text>
<rect x="231" y="610.6" width="13" height="5" fill="#000"/>
<rect x="219" y="548.5" width="25" height="5" fill="#000"/>
<text x="202.5" y="564.0" class="tl" text-anchor="end" textLength="54.2" lengthAdjust="spacingAndGlyphs">60</text>
<rect x="231" y="486.3" width="13" height="5" fill="#000"/>
<rect x="219" y="424.2" width="25" height="5" fill="#000"/>
<text x="202.5" y="439.7" class="tl" text-anchor="end" textLength="54.2" lengthAdjust="spacingAndGlyphs">70</text>
<rect x="231" y="362.1" width="13" height="5" fill="#000"/>
<rect x="219" y="299.9" width="25" height="5" fill="#000"/>
<text x="202.5" y="315.4" class="tl" text-anchor="end" textLength="54.2" lengthAdjust="spacingAndGlyphs">80</text>
<rect x="231" y="237.8" width="13" height="5" fill="#000"/>
<rect x="219" y="175.7" width="25" height="5" fill="#000"/>
<text x="202.5" y="191.2" class="tl" text-anchor="end" textLength="54.2" lengthAdjust="spacingAndGlyphs">90</text>
<rect x="231" y="113.5" width="13" height="5" fill="#000"/>
<rect x="219" y="51.4" width="25" height="5" fill="#000"/>
<text x="202.5" y="66.9" class="tl" text-anchor="end" textLength="81.3" lengthAdjust="spacingAndGlyphs">100</text>
<rect x="242.3" y="1297" width="5" height="27.6" fill="#000"/>
<text x="245.8" y="1378.8" class="tl" text-anchor="middle">0</text>
<rect x="331.6" y="1297" width="5" height="14.8" fill="#000"/>
<rect x="421.0" y="1297" width="5" height="27.6" fill="#000"/>
<text x="422.7" y="1378.8" class="tl" text-anchor="middle" textLength="54.5" lengthAdjust="spacingAndGlyphs">50</text>
<rect x="510.3" y="1297" width="5" height="14.8" fill="#000"/>
<rect x="599.7" y="1297" width="5" height="27.6" fill="#000"/>
<text x="601.4" y="1378.8" class="tl" text-anchor="middle" textLength="81.7" lengthAdjust="spacingAndGlyphs">100</text>
<rect x="689.0" y="1297" width="5" height="14.8" fill="#000"/>
<rect x="778.4" y="1297" width="5" height="27.6" fill="#000"/>
<text x="780.1" y="1378.8" class="tl" text-anchor="middle" textLength="81.7" lengthAdjust="spacingAndGlyphs">150</text>
<rect x="867.7" y="1297" width="5" height="14.8" fill="#000"/>
<rect x="957.1" y="1297" width="5" height="27.6" fill="#000"/>
<text x="958.8" y="1378.8" class="tl" text-anchor="middle" textLength="81.7" lengthAdjust="spacingAndGlyphs">200</text>
<rect x="1046.4" y="1297" width="5" height="14.8" fill="#000"/>
<rect x="1135.8" y="1297" width="5" height="27.6" fill="#000"/>
<text x="1137.5" y="1378.8" class="tl" text-anchor="middle" textLength="81.7" lengthAdjust="spacingAndGlyphs">250</text>
<rect x="1225.1" y="1297" width="5" height="14.8" fill="#000"/>
<rect x="1314.4" y="1297" width="5" height="27.6" fill="#000"/>
<text x="1316.1" y="1378.8" class="tl" text-anchor="middle" textLength="81.7" lengthAdjust="spacingAndGlyphs">300</text>
<rect x="1403.8" y="1297" width="5" height="14.8" fill="#000"/>
<rect x="1493.1" y="1297" width="5" height="27.6" fill="#000"/>
<text x="1494.8" y="1378.8" class="tl" text-anchor="middle" textLength="81.7" lengthAdjust="spacingAndGlyphs">350</text>
<rect x="1582.5" y="1297" width="5" height="14.8" fill="#000"/>
<rect x="1671.8" y="1297" width="5" height="27.6" fill="#000"/>
<text x="1673.5" y="1378.8" class="tl" text-anchor="middle" textLength="81.7" lengthAdjust="spacingAndGlyphs">400</text>
<rect x="1761.2" y="1297" width="5" height="14.8" fill="#000"/>
<rect x="1850.5" y="1297" width="5" height="27.6" fill="#000"/>
<text x="1852.2" y="1378.8" class="tl" text-anchor="middle" textLength="81.7" lengthAdjust="spacingAndGlyphs">450</text>
<text x="859.8" y="1485.6" class="at" textLength="240.6" lengthAdjust="spacingAndGlyphs">Distance</text>
<text x="1116" y="1485.6" class="at th">(</text>
<text transform="translate(1137.8,1485.6) scale(1.1,0.9)" x="0" y="0" class="at" style="stroke:#fff;stroke-width:0.8px">μ</text>
<text x="1172.2" y="1485.6" class="at">m</text>
<text x="1226" y="1485.6" class="at th">)</text>
<text transform="translate(75.5,716) rotate(-90)" class="at" text-anchor="middle">Content (at.-%)</text>
<line x1="1404" y1="96.9" x2="1542" y2="96.9" stroke="#00ffff" stroke-width="2.8"/>
<rect x="1468.6" y="92.9" width="8.0" height="8.0" fill="#00ffff"/>
<text x="1557.3" y="116.4" class="lg">Y</text>
<line x1="1404" y1="172.3" x2="1542" y2="172.3" stroke="#ff00ff" stroke-width="2.8"/>
<rect x="1468.6" y="168.3" width="8.0" height="8.0" fill="#ff00ff"/>
<text x="1557.3" y="191.8" class="lg">Ba</text>
<line x1="1404" y1="247.3" x2="1542" y2="247.3" stroke="#0000ff" stroke-width="2.8"/>
<path d="M1472.6 241.3L1479.1 251.8L1466.1 251.8Z" fill="#0000ff"/>
<text x="1557.3" y="266.8" class="lg">Cu</text>
<line x1="1404" y1="322.6" x2="1542" y2="322.6" stroke="#00ff00" stroke-width="2.8"/>
<path d="M1472.6 328.6L1479.1 318.1L1466.1 318.1Z" fill="#00ff00"/>
<text x="1557.3" y="342.1" class="lg">O</text>
<line x1="1404" y1="397.9" x2="1542" y2="397.9" stroke="#ff0000" stroke-width="2.8"/>
<path d="M1472.6 391.4L1476.6 397.9L1472.6 404.4L1468.6 397.9Z" fill="#ff0000"/>
<text x="1557.3" y="417.4" class="lg">Si</text>
</svg>
</body></html>
